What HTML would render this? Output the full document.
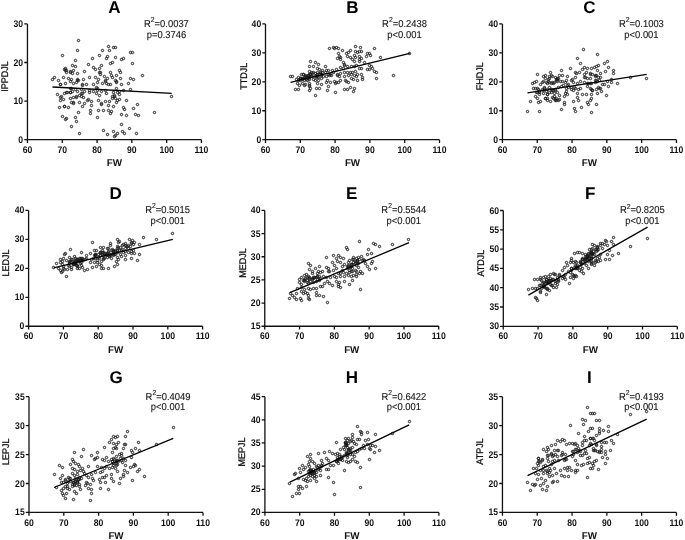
<!DOCTYPE html>
<html><head><meta charset="utf-8"><style>
html,body{margin:0;padding:0;background:#fff;}
svg{display:block;filter:grayscale(1) blur(0.35px);}
text{font-family:"Liberation Sans", sans-serif;fill:#111;text-rendering:geometricPrecision;}
.tl{font-size:9.6px;font-weight:bold;}
.tt{font-size:17px;font-weight:bold;fill:#000;}
.xl{font-size:9.8px;font-weight:bold;}
.yl{font-size:9.6px;stroke:#111;stroke-width:0.3px;}
.st{font-size:10.0px;fill:#151515;stroke:#151515;stroke-width:0.12px;}
.ax{fill:none;stroke:#111;stroke-width:1.3;}
.rl{fill:none;stroke:#000;stroke-width:1.3;}
.pt circle{fill:none;stroke:#1a1a1a;stroke-width:1.0;}
</style></head><body>
<svg width="685" height="540" viewBox="0 0 685 540">
<rect width="685" height="540" fill="#fff"/>
<text class="tl" text-anchor="end" transform="translate(23.15 142.7) scale(0.9 1)">0</text>
<text class="tl" text-anchor="end" transform="translate(23.15 104.1) scale(0.9 1)">10</text>
<text class="tl" text-anchor="end" transform="translate(23.15 65.5) scale(0.9 1)">20</text>
<text class="tl" text-anchor="end" transform="translate(23.15 26.9) scale(0.9 1)">30</text>
<text class="tl" text-anchor="middle" transform="translate(27.45 152.5) scale(0.9 1)">60</text>
<text class="tl" text-anchor="middle" transform="translate(62.25 152.5) scale(0.9 1)">70</text>
<text class="tl" text-anchor="middle" transform="translate(97.05 152.5) scale(0.9 1)">80</text>
<text class="tl" text-anchor="middle" transform="translate(131.85 152.5) scale(0.9 1)">90</text>
<text class="tl" text-anchor="middle" transform="translate(166.65 152.5) scale(0.9 1)">100</text>
<text class="tl" text-anchor="middle" transform="translate(201.45 152.5) scale(0.9 1)">110</text>
<path d="M27.45 23.9V139.7H201.45M24.25 139.7H27.45M24.25 101.1H27.45M24.25 62.5H27.45M24.25 23.9H27.45M27.45 139.7V142.9M62.25 139.7V142.9M97.05 139.7V142.9M131.85 139.7V142.9M166.65 139.7V142.9M201.45 139.7V142.9" class="ax"/>
<text x="114.45" y="13.1" class="tt" text-anchor="middle">A</text>
<text x="114.45" y="166.05" class="xl" text-anchor="middle">FW</text>
<text x="0" y="0" class="yl" text-anchor="middle" transform="translate(8.1 76.5) rotate(-90) scale(0.94 1)">IPPDJL</text>
<text class="st" text-anchor="middle" transform="translate(166.45 26.8) scale(0.94 1)">R<tspan font-size="7.2" dy="-4.9">2</tspan><tspan dy="4.9">=0.0037</tspan></text>
<text class="st" text-anchor="middle" transform="translate(166.45 37.7) scale(0.94 1)">p=0.3746</text>
<g class="pt"><circle cx="78.5" cy="40.5" r="1.2"/><circle cx="77.5" cy="50.5" r="1.2"/><circle cx="62.5" cy="55.5" r="1.2"/><circle cx="108.5" cy="46.5" r="1.2"/><circle cx="115.5" cy="47.5" r="1.2"/><circle cx="113.5" cy="47.5" r="1.2"/><circle cx="109.5" cy="50.5" r="1.2"/><circle cx="102.5" cy="50.5" r="1.2"/><circle cx="130.5" cy="52.5" r="1.2"/><circle cx="132.5" cy="52.5" r="1.2"/><circle cx="75.5" cy="60.5" r="1.2"/><circle cx="99.5" cy="55.5" r="1.2"/><circle cx="92.5" cy="58.5" r="1.2"/><circle cx="106.5" cy="58.5" r="1.2"/><circle cx="107.5" cy="56.5" r="1.2"/><circle cx="115.5" cy="57.5" r="1.2"/><circle cx="121.5" cy="59.5" r="1.2"/><circle cx="123.5" cy="58.5" r="1.2"/><circle cx="132.5" cy="63.5" r="1.2"/><circle cx="110.5" cy="63.5" r="1.2"/><circle cx="112.5" cy="62.5" r="1.2"/><circle cx="88.5" cy="64.5" r="1.2"/><circle cx="72.5" cy="65.5" r="1.2"/><circle cx="75.5" cy="66.5" r="1.2"/><circle cx="93.5" cy="67.5" r="1.2"/><circle cx="99.5" cy="68.5" r="1.2"/><circle cx="101.5" cy="65.5" r="1.2"/><circle cx="65.5" cy="68.5" r="1.2"/><circle cx="64.5" cy="69.5" r="1.2"/><circle cx="66.5" cy="70.5" r="1.2"/><circle cx="70.5" cy="71.5" r="1.2"/><circle cx="73.5" cy="70.5" r="1.2"/><circle cx="66.5" cy="72.5" r="1.2"/><circle cx="72.5" cy="73.5" r="1.2"/><circle cx="77.5" cy="73.5" r="1.2"/><circle cx="84.5" cy="71.5" r="1.2"/><circle cx="95.5" cy="69.5" r="1.2"/><circle cx="99.5" cy="72.5" r="1.2"/><circle cx="100.5" cy="74.5" r="1.2"/><circle cx="110.5" cy="72.5" r="1.2"/><circle cx="119.5" cy="70.5" r="1.2"/><circle cx="120.5" cy="72.5" r="1.2"/><circle cx="142.5" cy="75.5" r="1.2"/><circle cx="54.5" cy="77.5" r="1.2"/><circle cx="52.5" cy="79.5" r="1.2"/><circle cx="58.5" cy="80.5" r="1.2"/><circle cx="63.5" cy="77.5" r="1.2"/><circle cx="68.5" cy="78.5" r="1.2"/><circle cx="71.5" cy="79.5" r="1.2"/><circle cx="77.5" cy="79.5" r="1.2"/><circle cx="83.5" cy="79.5" r="1.2"/><circle cx="89.5" cy="77.5" r="1.2"/><circle cx="95.5" cy="77.5" r="1.2"/><circle cx="104.5" cy="76.5" r="1.2"/><circle cx="107.5" cy="78.5" r="1.2"/><circle cx="111.5" cy="75.5" r="1.2"/><circle cx="112.5" cy="77.5" r="1.2"/><circle cx="116.5" cy="75.5" r="1.2"/><circle cx="120.5" cy="78.5" r="1.2"/><circle cx="130.5" cy="78.5" r="1.2"/><circle cx="133.5" cy="79.5" r="1.2"/><circle cx="60.5" cy="84.5" r="1.2"/><circle cx="65.5" cy="83.5" r="1.2"/><circle cx="70.5" cy="81.5" r="1.2"/><circle cx="73.5" cy="83.5" r="1.2"/><circle cx="76.5" cy="82.5" r="1.2"/><circle cx="78.5" cy="80.5" r="1.2"/><circle cx="82.5" cy="85.5" r="1.2"/><circle cx="86.5" cy="84.5" r="1.2"/><circle cx="93.5" cy="84.5" r="1.2"/><circle cx="97.5" cy="82.5" r="1.2"/><circle cx="102.5" cy="83.5" r="1.2"/><circle cx="105.5" cy="81.5" r="1.2"/><circle cx="108.5" cy="84.5" r="1.2"/><circle cx="110.5" cy="84.5" r="1.2"/><circle cx="115.5" cy="80.5" r="1.2"/><circle cx="116.5" cy="82.5" r="1.2"/><circle cx="121.5" cy="84.5" r="1.2"/><circle cx="128.5" cy="83.5" r="1.2"/><circle cx="71.5" cy="88.5" r="1.2"/><circle cx="75.5" cy="89.5" r="1.2"/><circle cx="81.5" cy="89.5" r="1.2"/><circle cx="89.5" cy="90.5" r="1.2"/><circle cx="97.5" cy="88.5" r="1.2"/><circle cx="105.5" cy="90.5" r="1.2"/><circle cx="116.5" cy="88.5" r="1.2"/><circle cx="123.5" cy="90.5" r="1.2"/><circle cx="130.5" cy="89.5" r="1.2"/><circle cx="57.5" cy="94.5" r="1.2"/><circle cx="61.5" cy="96.5" r="1.2"/><circle cx="64.5" cy="93.5" r="1.2"/><circle cx="66.5" cy="92.5" r="1.2"/><circle cx="70.5" cy="92.5" r="1.2"/><circle cx="72.5" cy="91.5" r="1.2"/><circle cx="77.5" cy="91.5" r="1.2"/><circle cx="81.5" cy="93.5" r="1.2"/><circle cx="89.5" cy="92.5" r="1.2"/><circle cx="96.5" cy="93.5" r="1.2"/><circle cx="99.5" cy="95.5" r="1.2"/><circle cx="106.5" cy="93.5" r="1.2"/><circle cx="114.5" cy="95.5" r="1.2"/><circle cx="117.5" cy="92.5" r="1.2"/><circle cx="119.5" cy="94.5" r="1.2"/><circle cx="60.5" cy="97.5" r="1.2"/><circle cx="63.5" cy="99.5" r="1.2"/><circle cx="70.5" cy="98.5" r="1.2"/><circle cx="73.5" cy="97.5" r="1.2"/><circle cx="76.5" cy="96.5" r="1.2"/><circle cx="79.5" cy="95.5" r="1.2"/><circle cx="83.5" cy="97.5" r="1.2"/><circle cx="87.5" cy="100.5" r="1.2"/><circle cx="91.5" cy="101.5" r="1.2"/><circle cx="98.5" cy="100.5" r="1.2"/><circle cx="105.5" cy="101.5" r="1.2"/><circle cx="109.5" cy="101.5" r="1.2"/><circle cx="112.5" cy="96.5" r="1.2"/><circle cx="115.5" cy="98.5" r="1.2"/><circle cx="117.5" cy="100.5" r="1.2"/><circle cx="126.5" cy="100.5" r="1.2"/><circle cx="71.5" cy="102.5" r="1.2"/><circle cx="73.5" cy="103.5" r="1.2"/><circle cx="79.5" cy="102.5" r="1.2"/><circle cx="84.5" cy="103.5" r="1.2"/><circle cx="91.5" cy="105.5" r="1.2"/><circle cx="101.5" cy="104.5" r="1.2"/><circle cx="108.5" cy="105.5" r="1.2"/><circle cx="113.5" cy="106.5" r="1.2"/><circle cx="116.5" cy="102.5" r="1.2"/><circle cx="137.5" cy="104.5" r="1.2"/><circle cx="59.5" cy="107.5" r="1.2"/><circle cx="64.5" cy="106.5" r="1.2"/><circle cx="68.5" cy="107.5" r="1.2"/><circle cx="82.5" cy="106.5" r="1.2"/><circle cx="90.5" cy="110.5" r="1.2"/><circle cx="98.5" cy="110.5" r="1.2"/><circle cx="103.5" cy="110.5" r="1.2"/><circle cx="108.5" cy="110.5" r="1.2"/><circle cx="111.5" cy="111.5" r="1.2"/><circle cx="123.5" cy="107.5" r="1.2"/><circle cx="133.5" cy="108.5" r="1.2"/><circle cx="154.5" cy="112.5" r="1.2"/><circle cx="78.5" cy="112.5" r="1.2"/><circle cx="90.5" cy="113.5" r="1.2"/><circle cx="110.5" cy="113.5" r="1.2"/><circle cx="121.5" cy="114.5" r="1.2"/><circle cx="126.5" cy="115.5" r="1.2"/><circle cx="135.5" cy="114.5" r="1.2"/><circle cx="138.5" cy="115.5" r="1.2"/><circle cx="62.5" cy="116.5" r="1.2"/><circle cx="75.5" cy="117.5" r="1.2"/><circle cx="97.5" cy="117.5" r="1.2"/><circle cx="65.5" cy="119.5" r="1.2"/><circle cx="66.5" cy="118.5" r="1.2"/><circle cx="76.5" cy="121.5" r="1.2"/><circle cx="121.5" cy="124.5" r="1.2"/><circle cx="71.5" cy="126.5" r="1.2"/><circle cx="79.5" cy="133.5" r="1.2"/><circle cx="103.5" cy="130.5" r="1.2"/><circle cx="107.5" cy="134.5" r="1.2"/><circle cx="113.5" cy="131.5" r="1.2"/><circle cx="117.5" cy="133.5" r="1.2"/><circle cx="122.5" cy="131.5" r="1.2"/><circle cx="124.5" cy="133.5" r="1.2"/><circle cx="129.5" cy="128.5" r="1.2"/><circle cx="136.5" cy="133.5" r="1.2"/><circle cx="114.5" cy="136.5" r="1.2"/><circle cx="115.5" cy="135.5" r="1.2"/><circle cx="171.5" cy="96.5" r="1.2"/><circle cx="70.5" cy="92.5" r="1.2"/><circle cx="76.5" cy="97.5" r="1.2"/><circle cx="82.5" cy="84.5" r="1.2"/><circle cx="88.5" cy="99.5" r="1.2"/><circle cx="73.5" cy="102.5" r="1.2"/><circle cx="64.5" cy="106.5" r="1.2"/><circle cx="114.5" cy="96.5" r="1.2"/><circle cx="124.5" cy="109.5" r="1.2"/><circle cx="116.5" cy="81.5" r="1.2"/><circle cx="105.5" cy="80.5" r="1.2"/><circle cx="100.5" cy="72.5" r="1.2"/><circle cx="77.5" cy="80.5" r="1.2"/><circle cx="65.5" cy="70.5" r="1.2"/><circle cx="70.5" cy="72.5" r="1.2"/><circle cx="70.5" cy="88.5" r="1.2"/><circle cx="67.5" cy="92.5" r="1.2"/><circle cx="84.5" cy="91.5" r="1.2"/><circle cx="93.5" cy="91.5" r="1.2"/><circle cx="112.5" cy="98.5" r="1.2"/><circle cx="81.5" cy="96.5" r="1.2"/><circle cx="60.5" cy="100.5" r="1.2"/><circle cx="119.5" cy="99.5" r="1.2"/><circle cx="97.5" cy="90.5" r="1.2"/><circle cx="113.5" cy="92.5" r="1.2"/><circle cx="101.5" cy="91.5" r="1.2"/><circle cx="101.5" cy="103.5" r="1.2"/><circle cx="106.5" cy="83.5" r="1.2"/><circle cx="98.5" cy="79.5" r="1.2"/><circle cx="119.5" cy="91.5" r="1.2"/><circle cx="60.5" cy="84.5" r="1.2"/><circle cx="82.5" cy="93.5" r="1.2"/><circle cx="96.5" cy="87.5" r="1.2"/></g>
<path d="M52.51 87L171.7 93.3" class="rl"/>
<text class="tl" text-anchor="end" transform="translate(261.2 142.7) scale(0.9 1)">0</text>
<text class="tl" text-anchor="end" transform="translate(261.2 113.75) scale(0.9 1)">10</text>
<text class="tl" text-anchor="end" transform="translate(261.2 84.8) scale(0.9 1)">20</text>
<text class="tl" text-anchor="end" transform="translate(261.2 55.85) scale(0.9 1)">30</text>
<text class="tl" text-anchor="end" transform="translate(261.2 26.9) scale(0.9 1)">40</text>
<text class="tl" text-anchor="middle" transform="translate(265.5 152.5) scale(0.9 1)">60</text>
<text class="tl" text-anchor="middle" transform="translate(300.3 152.5) scale(0.9 1)">70</text>
<text class="tl" text-anchor="middle" transform="translate(335.1 152.5) scale(0.9 1)">80</text>
<text class="tl" text-anchor="middle" transform="translate(369.9 152.5) scale(0.9 1)">90</text>
<text class="tl" text-anchor="middle" transform="translate(404.7 152.5) scale(0.9 1)">100</text>
<text class="tl" text-anchor="middle" transform="translate(439.5 152.5) scale(0.9 1)">110</text>
<path d="M265.5 23.9V139.7H439.5M262.3 139.7H265.5M262.3 110.75H265.5M262.3 81.8H265.5M262.3 52.85H265.5M262.3 23.9H265.5M265.5 139.7V142.9M300.3 139.7V142.9M335.1 139.7V142.9M369.9 139.7V142.9M404.7 139.7V142.9M439.5 139.7V142.9" class="ax"/>
<text x="352.5" y="13.1" class="tt" text-anchor="middle">B</text>
<text x="352.5" y="166.05" class="xl" text-anchor="middle">FW</text>
<text x="0" y="0" class="yl" text-anchor="middle" transform="translate(246.9 76.25) rotate(-90) scale(0.94 1)">TTDJL</text>
<text class="st" text-anchor="middle" transform="translate(404.5 26.8) scale(0.94 1)">R<tspan font-size="7.2" dy="-4.9">2</tspan><tspan dy="4.9">=0.2438</tspan></text>
<text class="st" text-anchor="middle" transform="translate(404.5 37.7) scale(0.94 1)">p<0.001</text>
<g class="pt"><circle cx="329.5" cy="48.5" r="1.2"/><circle cx="333.5" cy="47.5" r="1.2"/><circle cx="334.5" cy="48.5" r="1.2"/><circle cx="336.5" cy="47.5" r="1.2"/><circle cx="338.5" cy="48.5" r="1.2"/><circle cx="342.5" cy="50.5" r="1.2"/><circle cx="355.5" cy="46.5" r="1.2"/><circle cx="360.5" cy="47.5" r="1.2"/><circle cx="350.5" cy="50.5" r="1.2"/><circle cx="348.5" cy="52.5" r="1.2"/><circle cx="346.5" cy="53.5" r="1.2"/><circle cx="355.5" cy="51.5" r="1.2"/><circle cx="357.5" cy="52.5" r="1.2"/><circle cx="359.5" cy="51.5" r="1.2"/><circle cx="361.5" cy="51.5" r="1.2"/><circle cx="367.5" cy="53.5" r="1.2"/><circle cx="369.5" cy="53.5" r="1.2"/><circle cx="366.5" cy="56.5" r="1.2"/><circle cx="370.5" cy="55.5" r="1.2"/><circle cx="338.5" cy="53.5" r="1.2"/><circle cx="339.5" cy="56.5" r="1.2"/><circle cx="340.5" cy="57.5" r="1.2"/><circle cx="337.5" cy="58.5" r="1.2"/><circle cx="340.5" cy="59.5" r="1.2"/><circle cx="347.5" cy="56.5" r="1.2"/><circle cx="350.5" cy="57.5" r="1.2"/><circle cx="354.5" cy="55.5" r="1.2"/><circle cx="355.5" cy="57.5" r="1.2"/><circle cx="359.5" cy="56.5" r="1.2"/><circle cx="352.5" cy="59.5" r="1.2"/><circle cx="354.5" cy="61.5" r="1.2"/><circle cx="359.5" cy="59.5" r="1.2"/><circle cx="359.5" cy="61.5" r="1.2"/><circle cx="361.5" cy="58.5" r="1.2"/><circle cx="343.5" cy="62.5" r="1.2"/><circle cx="344.5" cy="64.5" r="1.2"/><circle cx="344.5" cy="65.5" r="1.2"/><circle cx="364.5" cy="62.5" r="1.2"/><circle cx="369.5" cy="65.5" r="1.2"/><circle cx="371.5" cy="66.5" r="1.2"/><circle cx="372.5" cy="68.5" r="1.2"/><circle cx="310.5" cy="61.5" r="1.2"/><circle cx="315.5" cy="62.5" r="1.2"/><circle cx="318.5" cy="64.5" r="1.2"/><circle cx="325.5" cy="66.5" r="1.2"/><circle cx="309.5" cy="66.5" r="1.2"/><circle cx="313.5" cy="66.5" r="1.2"/><circle cx="317.5" cy="68.5" r="1.2"/><circle cx="319.5" cy="69.5" r="1.2"/><circle cx="322.5" cy="70.5" r="1.2"/><circle cx="326.5" cy="70.5" r="1.2"/><circle cx="328.5" cy="70.5" r="1.2"/><circle cx="332.5" cy="70.5" r="1.2"/><circle cx="336.5" cy="69.5" r="1.2"/><circle cx="340.5" cy="67.5" r="1.2"/><circle cx="343.5" cy="68.5" r="1.2"/><circle cx="347.5" cy="66.5" r="1.2"/><circle cx="351.5" cy="66.5" r="1.2"/><circle cx="354.5" cy="66.5" r="1.2"/><circle cx="356.5" cy="65.5" r="1.2"/><circle cx="359.5" cy="68.5" r="1.2"/><circle cx="361.5" cy="68.5" r="1.2"/><circle cx="367.5" cy="69.5" r="1.2"/><circle cx="369.5" cy="69.5" r="1.2"/><circle cx="309.5" cy="71.5" r="1.2"/><circle cx="311.5" cy="72.5" r="1.2"/><circle cx="313.5" cy="72.5" r="1.2"/><circle cx="315.5" cy="73.5" r="1.2"/><circle cx="317.5" cy="74.5" r="1.2"/><circle cx="319.5" cy="74.5" r="1.2"/><circle cx="322.5" cy="72.5" r="1.2"/><circle cx="325.5" cy="72.5" r="1.2"/><circle cx="328.5" cy="74.5" r="1.2"/><circle cx="330.5" cy="74.5" r="1.2"/><circle cx="333.5" cy="72.5" r="1.2"/><circle cx="337.5" cy="74.5" r="1.2"/><circle cx="340.5" cy="73.5" r="1.2"/><circle cx="344.5" cy="72.5" r="1.2"/><circle cx="347.5" cy="72.5" r="1.2"/><circle cx="350.5" cy="72.5" r="1.2"/><circle cx="352.5" cy="72.5" r="1.2"/><circle cx="355.5" cy="71.5" r="1.2"/><circle cx="357.5" cy="74.5" r="1.2"/><circle cx="361.5" cy="74.5" r="1.2"/><circle cx="290.5" cy="76.5" r="1.2"/><circle cx="292.5" cy="76.5" r="1.2"/><circle cx="301.5" cy="74.5" r="1.2"/><circle cx="303.5" cy="74.5" r="1.2"/><circle cx="298.5" cy="77.5" r="1.2"/><circle cx="300.5" cy="78.5" r="1.2"/><circle cx="302.5" cy="78.5" r="1.2"/><circle cx="304.5" cy="77.5" r="1.2"/><circle cx="306.5" cy="76.5" r="1.2"/><circle cx="308.5" cy="75.5" r="1.2"/><circle cx="310.5" cy="74.5" r="1.2"/><circle cx="312.5" cy="76.5" r="1.2"/><circle cx="315.5" cy="76.5" r="1.2"/><circle cx="318.5" cy="77.5" r="1.2"/><circle cx="321.5" cy="78.5" r="1.2"/><circle cx="323.5" cy="76.5" r="1.2"/><circle cx="326.5" cy="76.5" r="1.2"/><circle cx="329.5" cy="75.5" r="1.2"/><circle cx="331.5" cy="75.5" r="1.2"/><circle cx="337.5" cy="75.5" r="1.2"/><circle cx="339.5" cy="76.5" r="1.2"/><circle cx="344.5" cy="76.5" r="1.2"/><circle cx="348.5" cy="75.5" r="1.2"/><circle cx="351.5" cy="74.5" r="1.2"/><circle cx="354.5" cy="75.5" r="1.2"/><circle cx="356.5" cy="76.5" r="1.2"/><circle cx="362.5" cy="77.5" r="1.2"/><circle cx="296.5" cy="79.5" r="1.2"/><circle cx="298.5" cy="80.5" r="1.2"/><circle cx="300.5" cy="80.5" r="1.2"/><circle cx="304.5" cy="80.5" r="1.2"/><circle cx="307.5" cy="80.5" r="1.2"/><circle cx="309.5" cy="79.5" r="1.2"/><circle cx="313.5" cy="79.5" r="1.2"/><circle cx="315.5" cy="80.5" r="1.2"/><circle cx="318.5" cy="80.5" r="1.2"/><circle cx="327.5" cy="80.5" r="1.2"/><circle cx="330.5" cy="82.5" r="1.2"/><circle cx="334.5" cy="81.5" r="1.2"/><circle cx="338.5" cy="82.5" r="1.2"/><circle cx="340.5" cy="80.5" r="1.2"/><circle cx="345.5" cy="80.5" r="1.2"/><circle cx="348.5" cy="82.5" r="1.2"/><circle cx="351.5" cy="78.5" r="1.2"/><circle cx="353.5" cy="79.5" r="1.2"/><circle cx="357.5" cy="80.5" r="1.2"/><circle cx="362.5" cy="79.5" r="1.2"/><circle cx="297.5" cy="83.5" r="1.2"/><circle cx="299.5" cy="85.5" r="1.2"/><circle cx="302.5" cy="83.5" r="1.2"/><circle cx="304.5" cy="85.5" r="1.2"/><circle cx="305.5" cy="84.5" r="1.2"/><circle cx="309.5" cy="83.5" r="1.2"/><circle cx="309.5" cy="85.5" r="1.2"/><circle cx="309.5" cy="86.5" r="1.2"/><circle cx="310.5" cy="88.5" r="1.2"/><circle cx="309.5" cy="90.5" r="1.2"/><circle cx="317.5" cy="83.5" r="1.2"/><circle cx="321.5" cy="84.5" r="1.2"/><circle cx="326.5" cy="82.5" r="1.2"/><circle cx="328.5" cy="86.5" r="1.2"/><circle cx="335.5" cy="83.5" r="1.2"/><circle cx="336.5" cy="82.5" r="1.2"/><circle cx="346.5" cy="81.5" r="1.2"/><circle cx="295.5" cy="89.5" r="1.2"/><circle cx="298.5" cy="89.5" r="1.2"/><circle cx="316.5" cy="88.5" r="1.2"/><circle cx="319.5" cy="88.5" r="1.2"/><circle cx="327.5" cy="90.5" r="1.2"/><circle cx="344.5" cy="89.5" r="1.2"/><circle cx="347.5" cy="89.5" r="1.2"/><circle cx="350.5" cy="87.5" r="1.2"/><circle cx="354.5" cy="88.5" r="1.2"/><circle cx="353.5" cy="91.5" r="1.2"/><circle cx="335.5" cy="92.5" r="1.2"/><circle cx="315.5" cy="95.5" r="1.2"/><circle cx="374.5" cy="48.5" r="1.2"/><circle cx="380.5" cy="57.5" r="1.2"/><circle cx="409.5" cy="53.5" r="1.2"/><circle cx="374.5" cy="71.5" r="1.2"/><circle cx="376.5" cy="72.5" r="1.2"/><circle cx="376.5" cy="78.5" r="1.2"/><circle cx="393.5" cy="75.5" r="1.2"/><circle cx="309.5" cy="77.5" r="1.2"/><circle cx="320.5" cy="72.5" r="1.2"/><circle cx="302.5" cy="79.5" r="1.2"/><circle cx="320.5" cy="73.5" r="1.2"/><circle cx="306.5" cy="79.5" r="1.2"/><circle cx="310.5" cy="74.5" r="1.2"/><circle cx="317.5" cy="76.5" r="1.2"/><circle cx="308.5" cy="76.5" r="1.2"/><circle cx="312.5" cy="73.5" r="1.2"/><circle cx="300.5" cy="78.5" r="1.2"/><circle cx="316.5" cy="75.5" r="1.2"/><circle cx="311.5" cy="76.5" r="1.2"/><circle cx="305.5" cy="75.5" r="1.2"/><circle cx="317.5" cy="72.5" r="1.2"/><circle cx="306.5" cy="77.5" r="1.2"/><circle cx="308.5" cy="75.5" r="1.2"/><circle cx="301.5" cy="78.5" r="1.2"/><circle cx="308.5" cy="78.5" r="1.2"/><circle cx="303.5" cy="74.5" r="1.2"/><circle cx="304.5" cy="78.5" r="1.2"/><circle cx="316.5" cy="77.5" r="1.2"/><circle cx="305.5" cy="76.5" r="1.2"/><circle cx="309.5" cy="74.5" r="1.2"/><circle cx="321.5" cy="75.5" r="1.2"/><circle cx="321.5" cy="74.5" r="1.2"/></g>
<path d="M290.56 82.3L409.75 53.4" class="rl"/>
<text class="tl" text-anchor="end" transform="translate(498.15 142.7) scale(0.9 1)">0</text>
<text class="tl" text-anchor="end" transform="translate(498.15 113.75) scale(0.9 1)">10</text>
<text class="tl" text-anchor="end" transform="translate(498.15 84.8) scale(0.9 1)">20</text>
<text class="tl" text-anchor="end" transform="translate(498.15 55.85) scale(0.9 1)">30</text>
<text class="tl" text-anchor="end" transform="translate(498.15 26.9) scale(0.9 1)">40</text>
<text class="tl" text-anchor="middle" transform="translate(502.45 152.5) scale(0.9 1)">60</text>
<text class="tl" text-anchor="middle" transform="translate(537.25 152.5) scale(0.9 1)">70</text>
<text class="tl" text-anchor="middle" transform="translate(572.05 152.5) scale(0.9 1)">80</text>
<text class="tl" text-anchor="middle" transform="translate(606.85 152.5) scale(0.9 1)">90</text>
<text class="tl" text-anchor="middle" transform="translate(641.65 152.5) scale(0.9 1)">100</text>
<text class="tl" text-anchor="middle" transform="translate(676.45 152.5) scale(0.9 1)">110</text>
<path d="M502.45 23.9V139.7H676.45M499.25 139.7H502.45M499.25 110.75H502.45M499.25 81.8H502.45M499.25 52.85H502.45M499.25 23.9H502.45M502.45 139.7V142.9M537.25 139.7V142.9M572.05 139.7V142.9M606.85 139.7V142.9M641.65 139.7V142.9M676.45 139.7V142.9" class="ax"/>
<text x="589.45" y="13.1" class="tt" text-anchor="middle">C</text>
<text x="589.45" y="166.05" class="xl" text-anchor="middle">FW</text>
<text x="0" y="0" class="yl" text-anchor="middle" transform="translate(483 76.25) rotate(-90) scale(0.94 1)">FHDJL</text>
<text class="st" text-anchor="middle" transform="translate(641.45 26.8) scale(0.94 1)">R<tspan font-size="7.2" dy="-4.9">2</tspan><tspan dy="4.9">=0.1003</tspan></text>
<text class="st" text-anchor="middle" transform="translate(641.45 37.7) scale(0.94 1)">p<0.001</text>
<g class="pt"><circle cx="583.5" cy="49.5" r="1.2"/><circle cx="597.5" cy="54.5" r="1.2"/><circle cx="577.5" cy="58.5" r="1.2"/><circle cx="580.5" cy="63.5" r="1.2"/><circle cx="570.5" cy="68.5" r="1.2"/><circle cx="561.5" cy="70.5" r="1.2"/><circle cx="537.5" cy="74.5" r="1.2"/><circle cx="550.5" cy="72.5" r="1.2"/><circle cx="545.5" cy="75.5" r="1.2"/><circle cx="543.5" cy="76.5" r="1.2"/><circle cx="552.5" cy="76.5" r="1.2"/><circle cx="555.5" cy="77.5" r="1.2"/><circle cx="557.5" cy="78.5" r="1.2"/><circle cx="567.5" cy="76.5" r="1.2"/><circle cx="575.5" cy="72.5" r="1.2"/><circle cx="576.5" cy="73.5" r="1.2"/><circle cx="575.5" cy="77.5" r="1.2"/><circle cx="579.5" cy="72.5" r="1.2"/><circle cx="582.5" cy="69.5" r="1.2"/><circle cx="584.5" cy="67.5" r="1.2"/><circle cx="587.5" cy="68.5" r="1.2"/><circle cx="591.5" cy="68.5" r="1.2"/><circle cx="594.5" cy="67.5" r="1.2"/><circle cx="596.5" cy="66.5" r="1.2"/><circle cx="598.5" cy="65.5" r="1.2"/><circle cx="584.5" cy="74.5" r="1.2"/><circle cx="586.5" cy="72.5" r="1.2"/><circle cx="590.5" cy="74.5" r="1.2"/><circle cx="592.5" cy="74.5" r="1.2"/><circle cx="595.5" cy="76.5" r="1.2"/><circle cx="598.5" cy="77.5" r="1.2"/><circle cx="584.5" cy="77.5" r="1.2"/><circle cx="587.5" cy="78.5" r="1.2"/><circle cx="590.5" cy="78.5" r="1.2"/><circle cx="532.5" cy="83.5" r="1.2"/><circle cx="534.5" cy="82.5" r="1.2"/><circle cx="536.5" cy="81.5" r="1.2"/><circle cx="540.5" cy="84.5" r="1.2"/><circle cx="543.5" cy="81.5" r="1.2"/><circle cx="546.5" cy="82.5" r="1.2"/><circle cx="547.5" cy="83.5" r="1.2"/><circle cx="549.5" cy="82.5" r="1.2"/><circle cx="551.5" cy="83.5" r="1.2"/><circle cx="554.5" cy="82.5" r="1.2"/><circle cx="557.5" cy="81.5" r="1.2"/><circle cx="560.5" cy="81.5" r="1.2"/><circle cx="562.5" cy="81.5" r="1.2"/><circle cx="565.5" cy="82.5" r="1.2"/><circle cx="566.5" cy="80.5" r="1.2"/><circle cx="571.5" cy="80.5" r="1.2"/><circle cx="573.5" cy="82.5" r="1.2"/><circle cx="577.5" cy="83.5" r="1.2"/><circle cx="580.5" cy="81.5" r="1.2"/><circle cx="584.5" cy="82.5" r="1.2"/><circle cx="588.5" cy="83.5" r="1.2"/><circle cx="591.5" cy="83.5" r="1.2"/><circle cx="595.5" cy="82.5" r="1.2"/><circle cx="597.5" cy="81.5" r="1.2"/><circle cx="533.5" cy="88.5" r="1.2"/><circle cx="538.5" cy="89.5" r="1.2"/><circle cx="539.5" cy="91.5" r="1.2"/><circle cx="542.5" cy="89.5" r="1.2"/><circle cx="544.5" cy="87.5" r="1.2"/><circle cx="547.5" cy="89.5" r="1.2"/><circle cx="549.5" cy="87.5" r="1.2"/><circle cx="551.5" cy="89.5" r="1.2"/><circle cx="553.5" cy="90.5" r="1.2"/><circle cx="555.5" cy="90.5" r="1.2"/><circle cx="558.5" cy="87.5" r="1.2"/><circle cx="561.5" cy="86.5" r="1.2"/><circle cx="566.5" cy="88.5" r="1.2"/><circle cx="568.5" cy="87.5" r="1.2"/><circle cx="571.5" cy="89.5" r="1.2"/><circle cx="573.5" cy="90.5" r="1.2"/><circle cx="578.5" cy="89.5" r="1.2"/><circle cx="580.5" cy="88.5" r="1.2"/><circle cx="587.5" cy="86.5" r="1.2"/><circle cx="590.5" cy="88.5" r="1.2"/><circle cx="592.5" cy="90.5" r="1.2"/><circle cx="596.5" cy="89.5" r="1.2"/><circle cx="598.5" cy="87.5" r="1.2"/><circle cx="539.5" cy="92.5" r="1.2"/><circle cx="543.5" cy="93.5" r="1.2"/><circle cx="547.5" cy="94.5" r="1.2"/><circle cx="551.5" cy="92.5" r="1.2"/><circle cx="554.5" cy="93.5" r="1.2"/><circle cx="557.5" cy="92.5" r="1.2"/><circle cx="565.5" cy="93.5" r="1.2"/><circle cx="567.5" cy="94.5" r="1.2"/><circle cx="577.5" cy="93.5" r="1.2"/><circle cx="582.5" cy="94.5" r="1.2"/><circle cx="586.5" cy="94.5" r="1.2"/><circle cx="591.5" cy="94.5" r="1.2"/><circle cx="597.5" cy="93.5" r="1.2"/><circle cx="535.5" cy="96.5" r="1.2"/><circle cx="537.5" cy="98.5" r="1.2"/><circle cx="540.5" cy="101.5" r="1.2"/><circle cx="538.5" cy="102.5" r="1.2"/><circle cx="545.5" cy="98.5" r="1.2"/><circle cx="547.5" cy="100.5" r="1.2"/><circle cx="550.5" cy="101.5" r="1.2"/><circle cx="555.5" cy="100.5" r="1.2"/><circle cx="558.5" cy="100.5" r="1.2"/><circle cx="564.5" cy="96.5" r="1.2"/><circle cx="564.5" cy="102.5" r="1.2"/><circle cx="564.5" cy="104.5" r="1.2"/><circle cx="573.5" cy="101.5" r="1.2"/><circle cx="577.5" cy="97.5" r="1.2"/><circle cx="578.5" cy="100.5" r="1.2"/><circle cx="587.5" cy="102.5" r="1.2"/><circle cx="588.5" cy="104.5" r="1.2"/><circle cx="591.5" cy="98.5" r="1.2"/><circle cx="590.5" cy="100.5" r="1.2"/><circle cx="596.5" cy="104.5" r="1.2"/><circle cx="530.5" cy="101.5" r="1.2"/><circle cx="527.5" cy="111.5" r="1.2"/><circle cx="539.5" cy="111.5" r="1.2"/><circle cx="561.5" cy="109.5" r="1.2"/><circle cx="574.5" cy="108.5" r="1.2"/><circle cx="575.5" cy="111.5" r="1.2"/><circle cx="581.5" cy="107.5" r="1.2"/><circle cx="591.5" cy="112.5" r="1.2"/><circle cx="607.5" cy="61.5" r="1.2"/><circle cx="604.5" cy="63.5" r="1.2"/><circle cx="608.5" cy="67.5" r="1.2"/><circle cx="605.5" cy="71.5" r="1.2"/><circle cx="600.5" cy="73.5" r="1.2"/><circle cx="613.5" cy="70.5" r="1.2"/><circle cx="613.5" cy="73.5" r="1.2"/><circle cx="611.5" cy="79.5" r="1.2"/><circle cx="611.5" cy="82.5" r="1.2"/><circle cx="607.5" cy="81.5" r="1.2"/><circle cx="604.5" cy="84.5" r="1.2"/><circle cx="602.5" cy="84.5" r="1.2"/><circle cx="608.5" cy="86.5" r="1.2"/><circle cx="617.5" cy="83.5" r="1.2"/><circle cx="630.5" cy="77.5" r="1.2"/><circle cx="646.5" cy="78.5" r="1.2"/><circle cx="606.5" cy="95.5" r="1.2"/><circle cx="601.5" cy="91.5" r="1.2"/><circle cx="544.5" cy="88.5" r="1.2"/><circle cx="566.5" cy="91.5" r="1.2"/><circle cx="556.5" cy="79.5" r="1.2"/><circle cx="559.5" cy="75.5" r="1.2"/><circle cx="568.5" cy="84.5" r="1.2"/><circle cx="546.5" cy="91.5" r="1.2"/><circle cx="556.5" cy="98.5" r="1.2"/><circle cx="545.5" cy="78.5" r="1.2"/><circle cx="548.5" cy="79.5" r="1.2"/><circle cx="563.5" cy="85.5" r="1.2"/><circle cx="575.5" cy="88.5" r="1.2"/><circle cx="547.5" cy="94.5" r="1.2"/><circle cx="574.5" cy="87.5" r="1.2"/><circle cx="552.5" cy="90.5" r="1.2"/><circle cx="555.5" cy="89.5" r="1.2"/><circle cx="539.5" cy="94.5" r="1.2"/><circle cx="559.5" cy="99.5" r="1.2"/><circle cx="572.5" cy="79.5" r="1.2"/><circle cx="559.5" cy="95.5" r="1.2"/><circle cx="552.5" cy="97.5" r="1.2"/><circle cx="557.5" cy="79.5" r="1.2"/><circle cx="556.5" cy="100.5" r="1.2"/><circle cx="549.5" cy="92.5" r="1.2"/><circle cx="562.5" cy="75.5" r="1.2"/><circle cx="554.5" cy="96.5" r="1.2"/><circle cx="543.5" cy="90.5" r="1.2"/><circle cx="549.5" cy="78.5" r="1.2"/><circle cx="552.5" cy="82.5" r="1.2"/><circle cx="548.5" cy="81.5" r="1.2"/><circle cx="553.5" cy="98.5" r="1.2"/><circle cx="537.5" cy="92.5" r="1.2"/><circle cx="545.5" cy="98.5" r="1.2"/><circle cx="549.5" cy="76.5" r="1.2"/><circle cx="551.5" cy="75.5" r="1.2"/><circle cx="553.5" cy="83.5" r="1.2"/><circle cx="537.5" cy="88.5" r="1.2"/><circle cx="556.5" cy="80.5" r="1.2"/><circle cx="535.5" cy="88.5" r="1.2"/><circle cx="542.5" cy="82.5" r="1.2"/><circle cx="571.5" cy="87.5" r="1.2"/><circle cx="555.5" cy="99.5" r="1.2"/><circle cx="536.5" cy="92.5" r="1.2"/><circle cx="547.5" cy="98.5" r="1.2"/><circle cx="558.5" cy="78.5" r="1.2"/><circle cx="567.5" cy="85.5" r="1.2"/><circle cx="600.5" cy="88.5" r="1.2"/><circle cx="596.5" cy="80.5" r="1.2"/><circle cx="592.5" cy="90.5" r="1.2"/><circle cx="597.5" cy="70.5" r="1.2"/><circle cx="596.5" cy="75.5" r="1.2"/><circle cx="590.5" cy="73.5" r="1.2"/><circle cx="590.5" cy="83.5" r="1.2"/><circle cx="600.5" cy="77.5" r="1.2"/><circle cx="599.5" cy="80.5" r="1.2"/><circle cx="595.5" cy="80.5" r="1.2"/><circle cx="585.5" cy="77.5" r="1.2"/><circle cx="591.5" cy="89.5" r="1.2"/><circle cx="599.5" cy="88.5" r="1.2"/><circle cx="595.5" cy="75.5" r="1.2"/><circle cx="587.5" cy="83.5" r="1.2"/></g>
<path d="M527.51 92.8L646.7 74.4" class="rl"/>
<text class="tl" text-anchor="end" transform="translate(24.3 329.25) scale(0.9 1)">0</text>
<text class="tl" text-anchor="end" transform="translate(24.3 300.3) scale(0.9 1)">10</text>
<text class="tl" text-anchor="end" transform="translate(24.3 271.35) scale(0.9 1)">20</text>
<text class="tl" text-anchor="end" transform="translate(24.3 242.4) scale(0.9 1)">30</text>
<text class="tl" text-anchor="end" transform="translate(24.3 213.45) scale(0.9 1)">40</text>
<text class="tl" text-anchor="middle" transform="translate(28.6 339.35) scale(0.9 1)">60</text>
<text class="tl" text-anchor="middle" transform="translate(63.4 339.35) scale(0.9 1)">70</text>
<text class="tl" text-anchor="middle" transform="translate(98.2 339.35) scale(0.9 1)">80</text>
<text class="tl" text-anchor="middle" transform="translate(133 339.35) scale(0.9 1)">90</text>
<text class="tl" text-anchor="middle" transform="translate(167.8 339.35) scale(0.9 1)">100</text>
<text class="tl" text-anchor="middle" transform="translate(202.6 339.35) scale(0.9 1)">110</text>
<path d="M28.6 210.45V326.25H202.6M25.4 326.25H28.6M25.4 297.3H28.6M25.4 268.35H28.6M25.4 239.4H28.6M25.4 210.45H28.6M28.6 326.25V329.45M63.4 326.25V329.45M98.2 326.25V329.45M133 326.25V329.45M167.8 326.25V329.45M202.6 326.25V329.45" class="ax"/>
<text x="115.6" y="198.6" class="tt" text-anchor="middle">D</text>
<text x="115.6" y="352.6" class="xl" text-anchor="middle">FW</text>
<text x="0" y="0" class="yl" text-anchor="middle" transform="translate(8.95 263) rotate(-90) scale(0.94 1)">LEDJL</text>
<text class="st" text-anchor="middle" transform="translate(167.6 213.35) scale(0.94 1)">R<tspan font-size="7.2" dy="-4.9">2</tspan><tspan dy="4.9">=0.5015</tspan></text>
<text class="st" text-anchor="middle" transform="translate(167.6 224.25) scale(0.94 1)">p<0.001</text>
<g class="pt"><circle cx="92.5" cy="242.5" r="1.2"/><circle cx="70.5" cy="249.5" r="1.2"/><circle cx="81.5" cy="252.5" r="1.2"/><circle cx="65.5" cy="253.5" r="1.2"/><circle cx="64.5" cy="254.5" r="1.2"/><circle cx="69.5" cy="257.5" r="1.2"/><circle cx="60.5" cy="259.5" r="1.2"/><circle cx="56.5" cy="263.5" r="1.2"/><circle cx="53.5" cy="267.5" r="1.2"/><circle cx="60.5" cy="262.5" r="1.2"/><circle cx="62.5" cy="261.5" r="1.2"/><circle cx="66.5" cy="260.5" r="1.2"/><circle cx="63.5" cy="258.5" r="1.2"/><circle cx="86.5" cy="255.5" r="1.2"/><circle cx="90.5" cy="253.5" r="1.2"/><circle cx="94.5" cy="250.5" r="1.2"/><circle cx="96.5" cy="250.5" r="1.2"/><circle cx="100.5" cy="247.5" r="1.2"/><circle cx="103.5" cy="247.5" r="1.2"/><circle cx="107.5" cy="248.5" r="1.2"/><circle cx="110.5" cy="245.5" r="1.2"/><circle cx="111.5" cy="250.5" r="1.2"/><circle cx="117.5" cy="239.5" r="1.2"/><circle cx="119.5" cy="241.5" r="1.2"/><circle cx="118.5" cy="247.5" r="1.2"/><circle cx="113.5" cy="250.5" r="1.2"/><circle cx="71.5" cy="259.5" r="1.2"/><circle cx="72.5" cy="259.5" r="1.2"/><circle cx="74.5" cy="256.5" r="1.2"/><circle cx="75.5" cy="258.5" r="1.2"/><circle cx="77.5" cy="259.5" r="1.2"/><circle cx="79.5" cy="260.5" r="1.2"/><circle cx="80.5" cy="258.5" r="1.2"/><circle cx="82.5" cy="259.5" r="1.2"/><circle cx="83.5" cy="260.5" r="1.2"/><circle cx="85.5" cy="259.5" r="1.2"/><circle cx="86.5" cy="258.5" r="1.2"/><circle cx="90.5" cy="262.5" r="1.2"/><circle cx="91.5" cy="259.5" r="1.2"/><circle cx="93.5" cy="258.5" r="1.2"/><circle cx="97.5" cy="260.5" r="1.2"/><circle cx="99.5" cy="258.5" r="1.2"/><circle cx="101.5" cy="261.5" r="1.2"/><circle cx="103.5" cy="259.5" r="1.2"/><circle cx="104.5" cy="258.5" r="1.2"/><circle cx="107.5" cy="257.5" r="1.2"/><circle cx="109.5" cy="256.5" r="1.2"/><circle cx="111.5" cy="258.5" r="1.2"/><circle cx="113.5" cy="255.5" r="1.2"/><circle cx="115.5" cy="254.5" r="1.2"/><circle cx="117.5" cy="257.5" r="1.2"/><circle cx="118.5" cy="259.5" r="1.2"/><circle cx="116.5" cy="261.5" r="1.2"/><circle cx="117.5" cy="264.5" r="1.2"/><circle cx="114.5" cy="266.5" r="1.2"/><circle cx="108.5" cy="268.5" r="1.2"/><circle cx="103.5" cy="268.5" r="1.2"/><circle cx="101.5" cy="268.5" r="1.2"/><circle cx="96.5" cy="266.5" r="1.2"/><circle cx="92.5" cy="267.5" r="1.2"/><circle cx="87.5" cy="269.5" r="1.2"/><circle cx="84.5" cy="270.5" r="1.2"/><circle cx="79.5" cy="268.5" r="1.2"/><circle cx="77.5" cy="268.5" r="1.2"/><circle cx="71.5" cy="269.5" r="1.2"/><circle cx="67.5" cy="269.5" r="1.2"/><circle cx="64.5" cy="269.5" r="1.2"/><circle cx="62.5" cy="271.5" r="1.2"/><circle cx="61.5" cy="272.5" r="1.2"/><circle cx="66.5" cy="276.5" r="1.2"/><circle cx="74.5" cy="264.5" r="1.2"/><circle cx="76.5" cy="265.5" r="1.2"/><circle cx="81.5" cy="265.5" r="1.2"/><circle cx="82.5" cy="267.5" r="1.2"/><circle cx="69.5" cy="263.5" r="1.2"/><circle cx="71.5" cy="262.5" r="1.2"/><circle cx="73.5" cy="263.5" r="1.2"/><circle cx="100.5" cy="253.5" r="1.2"/><circle cx="102.5" cy="254.5" r="1.2"/><circle cx="105.5" cy="253.5" r="1.2"/><circle cx="108.5" cy="252.5" r="1.2"/><circle cx="113.5" cy="252.5" r="1.2"/><circle cx="115.5" cy="251.5" r="1.2"/><circle cx="98.5" cy="254.5" r="1.2"/><circle cx="95.5" cy="255.5" r="1.2"/><circle cx="99.5" cy="264.5" r="1.2"/><circle cx="101.5" cy="265.5" r="1.2"/><circle cx="97.5" cy="262.5" r="1.2"/><circle cx="58.5" cy="268.5" r="1.2"/><circle cx="63.5" cy="268.5" r="1.2"/><circle cx="60.5" cy="270.5" r="1.2"/><circle cx="143.5" cy="237.5" r="1.2"/><circle cx="156.5" cy="239.5" r="1.2"/><circle cx="172.5" cy="233.5" r="1.2"/><circle cx="131.5" cy="242.5" r="1.2"/><circle cx="131.5" cy="243.5" r="1.2"/><circle cx="133.5" cy="244.5" r="1.2"/><circle cx="139.5" cy="244.5" r="1.2"/><circle cx="125.5" cy="243.5" r="1.2"/><circle cx="127.5" cy="246.5" r="1.2"/><circle cx="122.5" cy="245.5" r="1.2"/><circle cx="122.5" cy="249.5" r="1.2"/><circle cx="125.5" cy="248.5" r="1.2"/><circle cx="121.5" cy="250.5" r="1.2"/><circle cx="125.5" cy="251.5" r="1.2"/><circle cx="128.5" cy="252.5" r="1.2"/><circle cx="131.5" cy="251.5" r="1.2"/><circle cx="133.5" cy="250.5" r="1.2"/><circle cx="131.5" cy="253.5" r="1.2"/><circle cx="134.5" cy="253.5" r="1.2"/><circle cx="139.5" cy="254.5" r="1.2"/><circle cx="125.5" cy="255.5" r="1.2"/><circle cx="131.5" cy="258.5" r="1.2"/><circle cx="125.5" cy="259.5" r="1.2"/><circle cx="137.5" cy="260.5" r="1.2"/><circle cx="121.5" cy="256.5" r="1.2"/><circle cx="123.5" cy="252.5" r="1.2"/><circle cx="120.5" cy="254.5" r="1.2"/><circle cx="80.5" cy="260.5" r="1.2"/><circle cx="75.5" cy="263.5" r="1.2"/><circle cx="81.5" cy="258.5" r="1.2"/><circle cx="69.5" cy="262.5" r="1.2"/><circle cx="75.5" cy="261.5" r="1.2"/><circle cx="73.5" cy="264.5" r="1.2"/><circle cx="79.5" cy="258.5" r="1.2"/><circle cx="69.5" cy="266.5" r="1.2"/><circle cx="80.5" cy="260.5" r="1.2"/><circle cx="75.5" cy="262.5" r="1.2"/><circle cx="81.5" cy="262.5" r="1.2"/><circle cx="75.5" cy="263.5" r="1.2"/><circle cx="73.5" cy="264.5" r="1.2"/><circle cx="78.5" cy="261.5" r="1.2"/><circle cx="81.5" cy="260.5" r="1.2"/><circle cx="73.5" cy="263.5" r="1.2"/><circle cx="82.5" cy="258.5" r="1.2"/><circle cx="80.5" cy="263.5" r="1.2"/><circle cx="70.5" cy="261.5" r="1.2"/><circle cx="76.5" cy="259.5" r="1.2"/><circle cx="77.5" cy="266.5" r="1.2"/><circle cx="81.5" cy="260.5" r="1.2"/><circle cx="77.5" cy="259.5" r="1.2"/><circle cx="71.5" cy="267.5" r="1.2"/><circle cx="74.5" cy="261.5" r="1.2"/><circle cx="113.5" cy="254.5" r="1.2"/><circle cx="112.5" cy="249.5" r="1.2"/><circle cx="106.5" cy="255.5" r="1.2"/><circle cx="100.5" cy="252.5" r="1.2"/><circle cx="95.5" cy="255.5" r="1.2"/><circle cx="102.5" cy="252.5" r="1.2"/><circle cx="103.5" cy="258.5" r="1.2"/><circle cx="95.5" cy="258.5" r="1.2"/><circle cx="94.5" cy="262.5" r="1.2"/><circle cx="117.5" cy="252.5" r="1.2"/><circle cx="109.5" cy="255.5" r="1.2"/><circle cx="98.5" cy="257.5" r="1.2"/><circle cx="103.5" cy="252.5" r="1.2"/><circle cx="117.5" cy="250.5" r="1.2"/><circle cx="114.5" cy="254.5" r="1.2"/><circle cx="115.5" cy="250.5" r="1.2"/><circle cx="103.5" cy="255.5" r="1.2"/><circle cx="104.5" cy="253.5" r="1.2"/><circle cx="110.5" cy="254.5" r="1.2"/><circle cx="94.5" cy="255.5" r="1.2"/><circle cx="107.5" cy="253.5" r="1.2"/><circle cx="100.5" cy="255.5" r="1.2"/><circle cx="113.5" cy="251.5" r="1.2"/><circle cx="95.5" cy="254.5" r="1.2"/><circle cx="110.5" cy="255.5" r="1.2"/><circle cx="132.5" cy="240.5" r="1.2"/><circle cx="126.5" cy="246.5" r="1.2"/><circle cx="100.5" cy="252.5" r="1.2"/><circle cx="128.5" cy="245.5" r="1.2"/><circle cx="128.5" cy="248.5" r="1.2"/><circle cx="108.5" cy="251.5" r="1.2"/><circle cx="117.5" cy="246.5" r="1.2"/><circle cx="118.5" cy="242.5" r="1.2"/><circle cx="108.5" cy="248.5" r="1.2"/><circle cx="120.5" cy="247.5" r="1.2"/><circle cx="123.5" cy="244.5" r="1.2"/><circle cx="129.5" cy="239.5" r="1.2"/><circle cx="110.5" cy="243.5" r="1.2"/><circle cx="113.5" cy="251.5" r="1.2"/><circle cx="117.5" cy="248.5" r="1.2"/><circle cx="134.5" cy="242.5" r="1.2"/><circle cx="130.5" cy="246.5" r="1.2"/><circle cx="95.5" cy="254.5" r="1.2"/><circle cx="125.5" cy="245.5" r="1.2"/><circle cx="102.5" cy="250.5" r="1.2"/><circle cx="106.5" cy="254.5" r="1.2"/><circle cx="119.5" cy="250.5" r="1.2"/><circle cx="76.5" cy="261.5" r="1.2"/><circle cx="69.5" cy="261.5" r="1.2"/><circle cx="77.5" cy="265.5" r="1.2"/><circle cx="74.5" cy="262.5" r="1.2"/><circle cx="62.5" cy="264.5" r="1.2"/><circle cx="78.5" cy="260.5" r="1.2"/><circle cx="75.5" cy="263.5" r="1.2"/><circle cx="74.5" cy="263.5" r="1.2"/><circle cx="63.5" cy="266.5" r="1.2"/><circle cx="68.5" cy="265.5" r="1.2"/></g>
<path d="M53.66 267.8L172.85 239.4" class="rl"/>
<text class="tl" text-anchor="end" transform="translate(260.45 329.25) scale(0.9 1)">15</text>
<text class="tl" text-anchor="end" transform="translate(260.45 306.09) scale(0.9 1)">20</text>
<text class="tl" text-anchor="end" transform="translate(260.45 282.93) scale(0.9 1)">25</text>
<text class="tl" text-anchor="end" transform="translate(260.45 259.77) scale(0.9 1)">30</text>
<text class="tl" text-anchor="end" transform="translate(260.45 236.61) scale(0.9 1)">35</text>
<text class="tl" text-anchor="end" transform="translate(260.45 213.45) scale(0.9 1)">40</text>
<text class="tl" text-anchor="middle" transform="translate(264.75 339.35) scale(0.9 1)">60</text>
<text class="tl" text-anchor="middle" transform="translate(299.55 339.35) scale(0.9 1)">70</text>
<text class="tl" text-anchor="middle" transform="translate(334.35 339.35) scale(0.9 1)">80</text>
<text class="tl" text-anchor="middle" transform="translate(369.15 339.35) scale(0.9 1)">90</text>
<text class="tl" text-anchor="middle" transform="translate(403.95 339.35) scale(0.9 1)">100</text>
<text class="tl" text-anchor="middle" transform="translate(438.75 339.35) scale(0.9 1)">110</text>
<path d="M264.75 210.45V326.25H438.75M261.55 326.25H264.75M261.55 303.09H264.75M261.55 279.93H264.75M261.55 256.77H264.75M261.55 233.61H264.75M261.55 210.45H264.75M264.75 326.25V329.45M299.55 326.25V329.45M334.35 326.25V329.45M369.15 326.25V329.45M403.95 326.25V329.45M438.75 326.25V329.45" class="ax"/>
<text x="351.75" y="198.6" class="tt" text-anchor="middle">E</text>
<text x="351.75" y="352.6" class="xl" text-anchor="middle">FW</text>
<text x="0" y="0" class="yl" text-anchor="middle" transform="translate(245.5 262.9) rotate(-90) scale(0.94 1)">MEDJL</text>
<text class="st" text-anchor="middle" transform="translate(403.75 213.35) scale(0.94 1)">R<tspan font-size="7.2" dy="-4.9">2</tspan><tspan dy="4.9">=0.5544</tspan></text>
<text class="st" text-anchor="middle" transform="translate(403.75 224.25) scale(0.94 1)">p<0.001</text>
<g class="pt"><circle cx="346.5" cy="247.5" r="1.2"/><circle cx="347.5" cy="249.5" r="1.2"/><circle cx="333.5" cy="255.5" r="1.2"/><circle cx="326.5" cy="257.5" r="1.2"/><circle cx="338.5" cy="255.5" r="1.2"/><circle cx="340.5" cy="257.5" r="1.2"/><circle cx="343.5" cy="258.5" r="1.2"/><circle cx="336.5" cy="258.5" r="1.2"/><circle cx="337.5" cy="261.5" r="1.2"/><circle cx="332.5" cy="262.5" r="1.2"/><circle cx="340.5" cy="262.5" r="1.2"/><circle cx="308.5" cy="263.5" r="1.2"/><circle cx="310.5" cy="265.5" r="1.2"/><circle cx="319.5" cy="266.5" r="1.2"/><circle cx="315.5" cy="268.5" r="1.2"/><circle cx="326.5" cy="267.5" r="1.2"/><circle cx="328.5" cy="268.5" r="1.2"/><circle cx="334.5" cy="265.5" r="1.2"/><circle cx="336.5" cy="268.5" r="1.2"/><circle cx="342.5" cy="266.5" r="1.2"/><circle cx="344.5" cy="264.5" r="1.2"/><circle cx="348.5" cy="265.5" r="1.2"/><circle cx="351.5" cy="264.5" r="1.2"/><circle cx="353.5" cy="262.5" r="1.2"/><circle cx="353.5" cy="257.5" r="1.2"/><circle cx="352.5" cy="259.5" r="1.2"/><circle cx="349.5" cy="260.5" r="1.2"/><circle cx="309.5" cy="269.5" r="1.2"/><circle cx="312.5" cy="271.5" r="1.2"/><circle cx="312.5" cy="273.5" r="1.2"/><circle cx="318.5" cy="271.5" r="1.2"/><circle cx="320.5" cy="272.5" r="1.2"/><circle cx="322.5" cy="271.5" r="1.2"/><circle cx="328.5" cy="271.5" r="1.2"/><circle cx="329.5" cy="271.5" r="1.2"/><circle cx="333.5" cy="270.5" r="1.2"/><circle cx="338.5" cy="273.5" r="1.2"/><circle cx="340.5" cy="273.5" r="1.2"/><circle cx="343.5" cy="272.5" r="1.2"/><circle cx="346.5" cy="273.5" r="1.2"/><circle cx="349.5" cy="272.5" r="1.2"/><circle cx="352.5" cy="271.5" r="1.2"/><circle cx="355.5" cy="270.5" r="1.2"/><circle cx="299.5" cy="279.5" r="1.2"/><circle cx="301.5" cy="277.5" r="1.2"/><circle cx="305.5" cy="278.5" r="1.2"/><circle cx="307.5" cy="277.5" r="1.2"/><circle cx="309.5" cy="277.5" r="1.2"/><circle cx="312.5" cy="278.5" r="1.2"/><circle cx="314.5" cy="277.5" r="1.2"/><circle cx="317.5" cy="279.5" r="1.2"/><circle cx="320.5" cy="278.5" r="1.2"/><circle cx="323.5" cy="276.5" r="1.2"/><circle cx="326.5" cy="277.5" r="1.2"/><circle cx="330.5" cy="277.5" r="1.2"/><circle cx="334.5" cy="276.5" r="1.2"/><circle cx="336.5" cy="277.5" r="1.2"/><circle cx="340.5" cy="276.5" r="1.2"/><circle cx="344.5" cy="276.5" r="1.2"/><circle cx="348.5" cy="275.5" r="1.2"/><circle cx="351.5" cy="276.5" r="1.2"/><circle cx="353.5" cy="275.5" r="1.2"/><circle cx="299.5" cy="282.5" r="1.2"/><circle cx="301.5" cy="284.5" r="1.2"/><circle cx="304.5" cy="281.5" r="1.2"/><circle cx="307.5" cy="280.5" r="1.2"/><circle cx="310.5" cy="281.5" r="1.2"/><circle cx="313.5" cy="282.5" r="1.2"/><circle cx="316.5" cy="281.5" r="1.2"/><circle cx="319.5" cy="280.5" r="1.2"/><circle cx="324.5" cy="283.5" r="1.2"/><circle cx="327.5" cy="281.5" r="1.2"/><circle cx="329.5" cy="283.5" r="1.2"/><circle cx="332.5" cy="285.5" r="1.2"/><circle cx="336.5" cy="281.5" r="1.2"/><circle cx="339.5" cy="282.5" r="1.2"/><circle cx="338.5" cy="284.5" r="1.2"/><circle cx="344.5" cy="281.5" r="1.2"/><circle cx="349.5" cy="284.5" r="1.2"/><circle cx="352.5" cy="280.5" r="1.2"/><circle cx="297.5" cy="288.5" r="1.2"/><circle cx="301.5" cy="287.5" r="1.2"/><circle cx="304.5" cy="289.5" r="1.2"/><circle cx="308.5" cy="288.5" r="1.2"/><circle cx="310.5" cy="289.5" r="1.2"/><circle cx="313.5" cy="288.5" r="1.2"/><circle cx="316.5" cy="288.5" r="1.2"/><circle cx="320.5" cy="286.5" r="1.2"/><circle cx="322.5" cy="286.5" r="1.2"/><circle cx="338.5" cy="286.5" r="1.2"/><circle cx="340.5" cy="287.5" r="1.2"/><circle cx="316.5" cy="292.5" r="1.2"/><circle cx="290.5" cy="293.5" r="1.2"/><circle cx="292.5" cy="295.5" r="1.2"/><circle cx="296.5" cy="293.5" r="1.2"/><circle cx="301.5" cy="291.5" r="1.2"/><circle cx="303.5" cy="293.5" r="1.2"/><circle cx="305.5" cy="292.5" r="1.2"/><circle cx="307.5" cy="293.5" r="1.2"/><circle cx="308.5" cy="295.5" r="1.2"/><circle cx="316.5" cy="295.5" r="1.2"/><circle cx="319.5" cy="295.5" r="1.2"/><circle cx="323.5" cy="296.5" r="1.2"/><circle cx="289.5" cy="298.5" r="1.2"/><circle cx="294.5" cy="297.5" r="1.2"/><circle cx="296.5" cy="299.5" r="1.2"/><circle cx="300.5" cy="298.5" r="1.2"/><circle cx="301.5" cy="300.5" r="1.2"/><circle cx="308.5" cy="298.5" r="1.2"/><circle cx="309.5" cy="299.5" r="1.2"/><circle cx="327.5" cy="302.5" r="1.2"/><circle cx="359.5" cy="241.5" r="1.2"/><circle cx="373.5" cy="243.5" r="1.2"/><circle cx="375.5" cy="244.5" r="1.2"/><circle cx="379.5" cy="246.5" r="1.2"/><circle cx="392.5" cy="244.5" r="1.2"/><circle cx="408.5" cy="239.5" r="1.2"/><circle cx="368.5" cy="249.5" r="1.2"/><circle cx="367.5" cy="254.5" r="1.2"/><circle cx="371.5" cy="253.5" r="1.2"/><circle cx="361.5" cy="256.5" r="1.2"/><circle cx="358.5" cy="257.5" r="1.2"/><circle cx="359.5" cy="259.5" r="1.2"/><circle cx="363.5" cy="259.5" r="1.2"/><circle cx="362.5" cy="260.5" r="1.2"/><circle cx="364.5" cy="260.5" r="1.2"/><circle cx="372.5" cy="261.5" r="1.2"/><circle cx="371.5" cy="263.5" r="1.2"/><circle cx="357.5" cy="260.5" r="1.2"/><circle cx="358.5" cy="263.5" r="1.2"/><circle cx="365.5" cy="263.5" r="1.2"/><circle cx="367.5" cy="266.5" r="1.2"/><circle cx="369.5" cy="269.5" r="1.2"/><circle cx="375.5" cy="268.5" r="1.2"/><circle cx="358.5" cy="267.5" r="1.2"/><circle cx="356.5" cy="271.5" r="1.2"/><circle cx="360.5" cy="271.5" r="1.2"/><circle cx="362.5" cy="273.5" r="1.2"/><circle cx="359.5" cy="273.5" r="1.2"/><circle cx="356.5" cy="274.5" r="1.2"/><circle cx="356.5" cy="276.5" r="1.2"/><circle cx="360.5" cy="289.5" r="1.2"/><circle cx="312.5" cy="279.5" r="1.2"/><circle cx="309.5" cy="278.5" r="1.2"/><circle cx="308.5" cy="276.5" r="1.2"/><circle cx="308.5" cy="283.5" r="1.2"/><circle cx="319.5" cy="276.5" r="1.2"/><circle cx="313.5" cy="277.5" r="1.2"/><circle cx="313.5" cy="278.5" r="1.2"/><circle cx="307.5" cy="282.5" r="1.2"/><circle cx="314.5" cy="277.5" r="1.2"/><circle cx="304.5" cy="280.5" r="1.2"/><circle cx="304.5" cy="279.5" r="1.2"/><circle cx="317.5" cy="273.5" r="1.2"/><circle cx="303.5" cy="280.5" r="1.2"/><circle cx="319.5" cy="279.5" r="1.2"/><circle cx="317.5" cy="276.5" r="1.2"/><circle cx="316.5" cy="277.5" r="1.2"/><circle cx="304.5" cy="275.5" r="1.2"/><circle cx="306.5" cy="274.5" r="1.2"/><circle cx="317.5" cy="276.5" r="1.2"/><circle cx="309.5" cy="279.5" r="1.2"/><circle cx="351.5" cy="264.5" r="1.2"/><circle cx="356.5" cy="262.5" r="1.2"/><circle cx="353.5" cy="259.5" r="1.2"/><circle cx="348.5" cy="266.5" r="1.2"/><circle cx="349.5" cy="270.5" r="1.2"/><circle cx="356.5" cy="258.5" r="1.2"/><circle cx="342.5" cy="270.5" r="1.2"/><circle cx="355.5" cy="263.5" r="1.2"/><circle cx="355.5" cy="261.5" r="1.2"/><circle cx="351.5" cy="271.5" r="1.2"/><circle cx="347.5" cy="268.5" r="1.2"/><circle cx="348.5" cy="262.5" r="1.2"/><circle cx="347.5" cy="266.5" r="1.2"/><circle cx="350.5" cy="267.5" r="1.2"/><circle cx="352.5" cy="264.5" r="1.2"/><circle cx="351.5" cy="266.5" r="1.2"/><circle cx="357.5" cy="261.5" r="1.2"/><circle cx="356.5" cy="265.5" r="1.2"/><circle cx="352.5" cy="268.5" r="1.2"/><circle cx="357.5" cy="260.5" r="1.2"/></g>
<path d="M289.81 292.7L409 242.6" class="rl"/>
<text class="tl" text-anchor="end" transform="translate(499 329.3) scale(0.9 1)">30</text>
<text class="tl" text-anchor="end" transform="translate(499 310) scale(0.9 1)">35</text>
<text class="tl" text-anchor="end" transform="translate(499 290.7) scale(0.9 1)">40</text>
<text class="tl" text-anchor="end" transform="translate(499 271.4) scale(0.9 1)">45</text>
<text class="tl" text-anchor="end" transform="translate(499 252.1) scale(0.9 1)">50</text>
<text class="tl" text-anchor="end" transform="translate(499 232.8) scale(0.9 1)">55</text>
<text class="tl" text-anchor="end" transform="translate(499 213.5) scale(0.9 1)">60</text>
<text class="tl" text-anchor="middle" transform="translate(503.3 339.4) scale(0.9 1)">60</text>
<text class="tl" text-anchor="middle" transform="translate(538.1 339.4) scale(0.9 1)">70</text>
<text class="tl" text-anchor="middle" transform="translate(572.9 339.4) scale(0.9 1)">80</text>
<text class="tl" text-anchor="middle" transform="translate(607.7 339.4) scale(0.9 1)">90</text>
<text class="tl" text-anchor="middle" transform="translate(642.5 339.4) scale(0.9 1)">100</text>
<text class="tl" text-anchor="middle" transform="translate(677.3 339.4) scale(0.9 1)">110</text>
<path d="M503.3 210.5V326.3H677.3M500.1 326.3H503.3M500.1 307H503.3M500.1 287.7H503.3M500.1 268.4H503.3M500.1 249.1H503.3M500.1 229.8H503.3M500.1 210.5H503.3M503.3 326.3V329.5M538.1 326.3V329.5M572.9 326.3V329.5M607.7 326.3V329.5M642.5 326.3V329.5M677.3 326.3V329.5" class="ax"/>
<text x="590.3" y="198.6" class="tt" text-anchor="middle">F</text>
<text x="590.3" y="352.65" class="xl" text-anchor="middle">FW</text>
<text x="0" y="0" class="yl" text-anchor="middle" transform="translate(484.2 263.1) rotate(-90) scale(0.94 1)">ATDJL</text>
<text class="st" text-anchor="middle" transform="translate(642.3 213.4) scale(0.94 1)">R<tspan font-size="7.2" dy="-4.9">2</tspan><tspan dy="4.9">=0.8205</tspan></text>
<text class="st" text-anchor="middle" transform="translate(642.3 224.3) scale(0.94 1)">p<0.001</text>
<g class="pt"><circle cx="574.5" cy="253.5" r="1.2"/><circle cx="577.5" cy="252.5" r="1.2"/><circle cx="579.5" cy="252.5" r="1.2"/><circle cx="582.5" cy="253.5" r="1.2"/><circle cx="585.5" cy="254.5" r="1.2"/><circle cx="587.5" cy="255.5" r="1.2"/><circle cx="589.5" cy="249.5" r="1.2"/><circle cx="571.5" cy="258.5" r="1.2"/><circle cx="566.5" cy="262.5" r="1.2"/><circle cx="567.5" cy="265.5" r="1.2"/><circle cx="564.5" cy="267.5" r="1.2"/><circle cx="562.5" cy="270.5" r="1.2"/><circle cx="570.5" cy="262.5" r="1.2"/><circle cx="573.5" cy="262.5" r="1.2"/><circle cx="576.5" cy="262.5" r="1.2"/><circle cx="577.5" cy="265.5" r="1.2"/><circle cx="580.5" cy="261.5" r="1.2"/><circle cx="582.5" cy="259.5" r="1.2"/><circle cx="585.5" cy="258.5" r="1.2"/><circle cx="587.5" cy="257.5" r="1.2"/><circle cx="584.5" cy="263.5" r="1.2"/><circle cx="586.5" cy="265.5" r="1.2"/><circle cx="588.5" cy="268.5" r="1.2"/><circle cx="582.5" cy="268.5" r="1.2"/><circle cx="581.5" cy="271.5" r="1.2"/><circle cx="583.5" cy="273.5" r="1.2"/><circle cx="579.5" cy="270.5" r="1.2"/><circle cx="576.5" cy="268.5" r="1.2"/><circle cx="574.5" cy="267.5" r="1.2"/><circle cx="571.5" cy="270.5" r="1.2"/><circle cx="570.5" cy="272.5" r="1.2"/><circle cx="572.5" cy="274.5" r="1.2"/><circle cx="574.5" cy="276.5" r="1.2"/><circle cx="576.5" cy="276.5" r="1.2"/><circle cx="573.5" cy="278.5" r="1.2"/><circle cx="569.5" cy="283.5" r="1.2"/><circle cx="568.5" cy="271.5" r="1.2"/><circle cx="565.5" cy="274.5" r="1.2"/><circle cx="563.5" cy="276.5" r="1.2"/><circle cx="562.5" cy="278.5" r="1.2"/><circle cx="559.5" cy="274.5" r="1.2"/><circle cx="557.5" cy="277.5" r="1.2"/><circle cx="555.5" cy="274.5" r="1.2"/><circle cx="553.5" cy="273.5" r="1.2"/><circle cx="550.5" cy="274.5" r="1.2"/><circle cx="548.5" cy="276.5" r="1.2"/><circle cx="545.5" cy="276.5" r="1.2"/><circle cx="543.5" cy="277.5" r="1.2"/><circle cx="540.5" cy="277.5" r="1.2"/><circle cx="537.5" cy="279.5" r="1.2"/><circle cx="534.5" cy="279.5" r="1.2"/><circle cx="540.5" cy="279.5" r="1.2"/><circle cx="541.5" cy="280.5" r="1.2"/><circle cx="546.5" cy="281.5" r="1.2"/><circle cx="548.5" cy="280.5" r="1.2"/><circle cx="550.5" cy="280.5" r="1.2"/><circle cx="553.5" cy="279.5" r="1.2"/><circle cx="556.5" cy="280.5" r="1.2"/><circle cx="558.5" cy="280.5" r="1.2"/><circle cx="564.5" cy="277.5" r="1.2"/><circle cx="565.5" cy="279.5" r="1.2"/><circle cx="547.5" cy="283.5" r="1.2"/><circle cx="550.5" cy="284.5" r="1.2"/><circle cx="552.5" cy="285.5" r="1.2"/><circle cx="555.5" cy="283.5" r="1.2"/><circle cx="557.5" cy="284.5" r="1.2"/><circle cx="553.5" cy="287.5" r="1.2"/><circle cx="556.5" cy="287.5" r="1.2"/><circle cx="544.5" cy="286.5" r="1.2"/><circle cx="546.5" cy="288.5" r="1.2"/><circle cx="547.5" cy="289.5" r="1.2"/><circle cx="541.5" cy="288.5" r="1.2"/><circle cx="539.5" cy="285.5" r="1.2"/><circle cx="537.5" cy="288.5" r="1.2"/><circle cx="535.5" cy="288.5" r="1.2"/><circle cx="532.5" cy="288.5" r="1.2"/><circle cx="528.5" cy="289.5" r="1.2"/><circle cx="540.5" cy="291.5" r="1.2"/><circle cx="540.5" cy="292.5" r="1.2"/><circle cx="546.5" cy="294.5" r="1.2"/><circle cx="535.5" cy="297.5" r="1.2"/><circle cx="536.5" cy="298.5" r="1.2"/><circle cx="537.5" cy="300.5" r="1.2"/><circle cx="549.5" cy="290.5" r="1.2"/><circle cx="551.5" cy="285.5" r="1.2"/><circle cx="543.5" cy="285.5" r="1.2"/><circle cx="613.5" cy="237.5" r="1.2"/><circle cx="647.5" cy="238.5" r="1.2"/><circle cx="630.5" cy="246.5" r="1.2"/><circle cx="605.5" cy="240.5" r="1.2"/><circle cx="606.5" cy="241.5" r="1.2"/><circle cx="602.5" cy="243.5" r="1.2"/><circle cx="604.5" cy="244.5" r="1.2"/><circle cx="600.5" cy="245.5" r="1.2"/><circle cx="611.5" cy="241.5" r="1.2"/><circle cx="613.5" cy="244.5" r="1.2"/><circle cx="607.5" cy="245.5" r="1.2"/><circle cx="597.5" cy="246.5" r="1.2"/><circle cx="594.5" cy="245.5" r="1.2"/><circle cx="592.5" cy="244.5" r="1.2"/><circle cx="592.5" cy="248.5" r="1.2"/><circle cx="595.5" cy="249.5" r="1.2"/><circle cx="597.5" cy="247.5" r="1.2"/><circle cx="598.5" cy="249.5" r="1.2"/><circle cx="591.5" cy="249.5" r="1.2"/><circle cx="609.5" cy="250.5" r="1.2"/><circle cx="607.5" cy="254.5" r="1.2"/><circle cx="612.5" cy="255.5" r="1.2"/><circle cx="618.5" cy="253.5" r="1.2"/><circle cx="600.5" cy="254.5" r="1.2"/><circle cx="599.5" cy="257.5" r="1.2"/><circle cx="597.5" cy="258.5" r="1.2"/><circle cx="600.5" cy="260.5" r="1.2"/><circle cx="598.5" cy="261.5" r="1.2"/><circle cx="605.5" cy="259.5" r="1.2"/><circle cx="609.5" cy="259.5" r="1.2"/><circle cx="595.5" cy="260.5" r="1.2"/><circle cx="592.5" cy="262.5" r="1.2"/><circle cx="594.5" cy="265.5" r="1.2"/><circle cx="591.5" cy="264.5" r="1.2"/><circle cx="595.5" cy="262.5" r="1.2"/><circle cx="591.5" cy="258.5" r="1.2"/><circle cx="591.5" cy="254.5" r="1.2"/><circle cx="590.5" cy="252.5" r="1.2"/><circle cx="546.5" cy="279.5" r="1.2"/><circle cx="559.5" cy="275.5" r="1.2"/><circle cx="546.5" cy="279.5" r="1.2"/><circle cx="554.5" cy="274.5" r="1.2"/><circle cx="558.5" cy="281.5" r="1.2"/><circle cx="547.5" cy="281.5" r="1.2"/><circle cx="547.5" cy="282.5" r="1.2"/><circle cx="547.5" cy="288.5" r="1.2"/><circle cx="543.5" cy="286.5" r="1.2"/><circle cx="549.5" cy="280.5" r="1.2"/><circle cx="545.5" cy="283.5" r="1.2"/><circle cx="546.5" cy="281.5" r="1.2"/><circle cx="543.5" cy="286.5" r="1.2"/><circle cx="542.5" cy="283.5" r="1.2"/><circle cx="555.5" cy="281.5" r="1.2"/><circle cx="549.5" cy="280.5" r="1.2"/><circle cx="544.5" cy="282.5" r="1.2"/><circle cx="550.5" cy="278.5" r="1.2"/><circle cx="551.5" cy="280.5" r="1.2"/><circle cx="552.5" cy="279.5" r="1.2"/><circle cx="558.5" cy="279.5" r="1.2"/><circle cx="543.5" cy="282.5" r="1.2"/><circle cx="548.5" cy="282.5" r="1.2"/><circle cx="544.5" cy="287.5" r="1.2"/><circle cx="540.5" cy="285.5" r="1.2"/><circle cx="592.5" cy="254.5" r="1.2"/><circle cx="581.5" cy="264.5" r="1.2"/><circle cx="586.5" cy="257.5" r="1.2"/><circle cx="591.5" cy="253.5" r="1.2"/><circle cx="588.5" cy="254.5" r="1.2"/><circle cx="593.5" cy="253.5" r="1.2"/><circle cx="591.5" cy="258.5" r="1.2"/><circle cx="591.5" cy="252.5" r="1.2"/><circle cx="575.5" cy="265.5" r="1.2"/><circle cx="582.5" cy="258.5" r="1.2"/><circle cx="585.5" cy="261.5" r="1.2"/><circle cx="576.5" cy="266.5" r="1.2"/><circle cx="575.5" cy="261.5" r="1.2"/><circle cx="591.5" cy="263.5" r="1.2"/><circle cx="594.5" cy="254.5" r="1.2"/><circle cx="590.5" cy="255.5" r="1.2"/><circle cx="582.5" cy="259.5" r="1.2"/><circle cx="588.5" cy="256.5" r="1.2"/><circle cx="580.5" cy="262.5" r="1.2"/><circle cx="588.5" cy="258.5" r="1.2"/><circle cx="580.5" cy="262.5" r="1.2"/><circle cx="589.5" cy="258.5" r="1.2"/><circle cx="596.5" cy="249.5" r="1.2"/><circle cx="593.5" cy="251.5" r="1.2"/><circle cx="591.5" cy="252.5" r="1.2"/><circle cx="589.5" cy="260.5" r="1.2"/><circle cx="575.5" cy="275.5" r="1.2"/><circle cx="571.5" cy="260.5" r="1.2"/><circle cx="571.5" cy="268.5" r="1.2"/><circle cx="585.5" cy="259.5" r="1.2"/><circle cx="573.5" cy="275.5" r="1.2"/><circle cx="587.5" cy="256.5" r="1.2"/><circle cx="584.5" cy="260.5" r="1.2"/><circle cx="577.5" cy="267.5" r="1.2"/><circle cx="580.5" cy="267.5" r="1.2"/><circle cx="588.5" cy="261.5" r="1.2"/><circle cx="585.5" cy="256.5" r="1.2"/><circle cx="570.5" cy="277.5" r="1.2"/><circle cx="585.5" cy="259.5" r="1.2"/><circle cx="575.5" cy="268.5" r="1.2"/><circle cx="591.5" cy="261.5" r="1.2"/><circle cx="571.5" cy="268.5" r="1.2"/><circle cx="577.5" cy="268.5" r="1.2"/><circle cx="588.5" cy="253.5" r="1.2"/><circle cx="581.5" cy="263.5" r="1.2"/><circle cx="596.5" cy="261.5" r="1.2"/><circle cx="597.5" cy="247.5" r="1.2"/><circle cx="596.5" cy="251.5" r="1.2"/><circle cx="586.5" cy="258.5" r="1.2"/><circle cx="597.5" cy="250.5" r="1.2"/><circle cx="600.5" cy="243.5" r="1.2"/><circle cx="592.5" cy="253.5" r="1.2"/><circle cx="587.5" cy="256.5" r="1.2"/><circle cx="591.5" cy="256.5" r="1.2"/><circle cx="602.5" cy="248.5" r="1.2"/></g>
<path d="M528.36 295.1L647.55 227.1" class="rl"/>
<text class="tl" text-anchor="end" transform="translate(24.7 515.45) scale(0.9 1)">15</text>
<text class="tl" text-anchor="end" transform="translate(24.7 486.5) scale(0.9 1)">20</text>
<text class="tl" text-anchor="end" transform="translate(24.7 457.55) scale(0.9 1)">25</text>
<text class="tl" text-anchor="end" transform="translate(24.7 428.6) scale(0.9 1)">30</text>
<text class="tl" text-anchor="end" transform="translate(24.7 399.65) scale(0.9 1)">35</text>
<text class="tl" text-anchor="middle" transform="translate(29 526.15) scale(0.9 1)">60</text>
<text class="tl" text-anchor="middle" transform="translate(63.8 526.15) scale(0.9 1)">70</text>
<text class="tl" text-anchor="middle" transform="translate(98.6 526.15) scale(0.9 1)">80</text>
<text class="tl" text-anchor="middle" transform="translate(133.4 526.15) scale(0.9 1)">90</text>
<text class="tl" text-anchor="middle" transform="translate(168.2 526.15) scale(0.9 1)">100</text>
<text class="tl" text-anchor="middle" transform="translate(203 526.15) scale(0.9 1)">110</text>
<path d="M29 396.65V512.45H203M25.8 512.45H29M25.8 483.5H29M25.8 454.55H29M25.8 425.6H29M25.8 396.65H29M29 512.45V515.65M63.8 512.45V515.65M98.6 512.45V515.65M133.4 512.45V515.65M168.2 512.45V515.65M203 512.45V515.65" class="ax"/>
<text x="116" y="383.4" class="tt" text-anchor="middle">G</text>
<text x="116" y="538.8" class="xl" text-anchor="middle">FW</text>
<text x="0" y="0" class="yl" text-anchor="middle" transform="translate(8.95 451.7) rotate(-90) scale(0.94 1)">LEPJL</text>
<text class="st" text-anchor="middle" transform="translate(168 399.55) scale(0.94 1)">R<tspan font-size="7.2" dy="-4.9">2</tspan><tspan dy="4.9">=0.4049</tspan></text>
<text class="st" text-anchor="middle" transform="translate(168 410.45) scale(0.94 1)">p<0.001</text>
<g class="pt"><circle cx="113.5" cy="436.5" r="1.2"/><circle cx="111.5" cy="439.5" r="1.2"/><circle cx="109.5" cy="442.5" r="1.2"/><circle cx="113.5" cy="443.5" r="1.2"/><circle cx="104.5" cy="447.5" r="1.2"/><circle cx="113.5" cy="448.5" r="1.2"/><circle cx="83.5" cy="449.5" r="1.2"/><circle cx="74.5" cy="452.5" r="1.2"/><circle cx="81.5" cy="456.5" r="1.2"/><circle cx="91.5" cy="455.5" r="1.2"/><circle cx="97.5" cy="452.5" r="1.2"/><circle cx="97.5" cy="457.5" r="1.2"/><circle cx="95.5" cy="458.5" r="1.2"/><circle cx="94.5" cy="459.5" r="1.2"/><circle cx="102.5" cy="459.5" r="1.2"/><circle cx="104.5" cy="460.5" r="1.2"/><circle cx="106.5" cy="457.5" r="1.2"/><circle cx="111.5" cy="459.5" r="1.2"/><circle cx="108.5" cy="461.5" r="1.2"/><circle cx="112.5" cy="461.5" r="1.2"/><circle cx="113.5" cy="465.5" r="1.2"/><circle cx="112.5" cy="452.5" r="1.2"/><circle cx="72.5" cy="459.5" r="1.2"/><circle cx="73.5" cy="461.5" r="1.2"/><circle cx="75.5" cy="463.5" r="1.2"/><circle cx="70.5" cy="464.5" r="1.2"/><circle cx="59.5" cy="465.5" r="1.2"/><circle cx="62.5" cy="467.5" r="1.2"/><circle cx="78.5" cy="464.5" r="1.2"/><circle cx="79.5" cy="466.5" r="1.2"/><circle cx="82.5" cy="468.5" r="1.2"/><circle cx="88.5" cy="466.5" r="1.2"/><circle cx="72.5" cy="468.5" r="1.2"/><circle cx="74.5" cy="469.5" r="1.2"/><circle cx="77.5" cy="471.5" r="1.2"/><circle cx="80.5" cy="470.5" r="1.2"/><circle cx="83.5" cy="471.5" r="1.2"/><circle cx="84.5" cy="473.5" r="1.2"/><circle cx="97.5" cy="466.5" r="1.2"/><circle cx="101.5" cy="467.5" r="1.2"/><circle cx="104.5" cy="468.5" r="1.2"/><circle cx="106.5" cy="466.5" r="1.2"/><circle cx="109.5" cy="468.5" r="1.2"/><circle cx="102.5" cy="471.5" r="1.2"/><circle cx="100.5" cy="472.5" r="1.2"/><circle cx="95.5" cy="472.5" r="1.2"/><circle cx="91.5" cy="474.5" r="1.2"/><circle cx="54.5" cy="474.5" r="1.2"/><circle cx="62.5" cy="475.5" r="1.2"/><circle cx="60.5" cy="478.5" r="1.2"/><circle cx="65.5" cy="479.5" r="1.2"/><circle cx="68.5" cy="477.5" r="1.2"/><circle cx="70.5" cy="478.5" r="1.2"/><circle cx="72.5" cy="473.5" r="1.2"/><circle cx="74.5" cy="475.5" r="1.2"/><circle cx="77.5" cy="474.5" r="1.2"/><circle cx="79.5" cy="477.5" r="1.2"/><circle cx="81.5" cy="478.5" r="1.2"/><circle cx="86.5" cy="475.5" r="1.2"/><circle cx="88.5" cy="477.5" r="1.2"/><circle cx="92.5" cy="478.5" r="1.2"/><circle cx="93.5" cy="480.5" r="1.2"/><circle cx="99.5" cy="479.5" r="1.2"/><circle cx="102.5" cy="477.5" r="1.2"/><circle cx="104.5" cy="477.5" r="1.2"/><circle cx="106.5" cy="475.5" r="1.2"/><circle cx="111.5" cy="478.5" r="1.2"/><circle cx="111.5" cy="474.5" r="1.2"/><circle cx="61.5" cy="482.5" r="1.2"/><circle cx="63.5" cy="482.5" r="1.2"/><circle cx="65.5" cy="480.5" r="1.2"/><circle cx="68.5" cy="481.5" r="1.2"/><circle cx="73.5" cy="482.5" r="1.2"/><circle cx="75.5" cy="481.5" r="1.2"/><circle cx="77.5" cy="482.5" r="1.2"/><circle cx="79.5" cy="484.5" r="1.2"/><circle cx="86.5" cy="482.5" r="1.2"/><circle cx="87.5" cy="483.5" r="1.2"/><circle cx="90.5" cy="484.5" r="1.2"/><circle cx="85.5" cy="485.5" r="1.2"/><circle cx="100.5" cy="482.5" r="1.2"/><circle cx="105.5" cy="482.5" r="1.2"/><circle cx="113.5" cy="481.5" r="1.2"/><circle cx="56.5" cy="487.5" r="1.2"/><circle cx="61.5" cy="490.5" r="1.2"/><circle cx="63.5" cy="488.5" r="1.2"/><circle cx="65.5" cy="486.5" r="1.2"/><circle cx="67.5" cy="486.5" r="1.2"/><circle cx="69.5" cy="489.5" r="1.2"/><circle cx="72.5" cy="486.5" r="1.2"/><circle cx="74.5" cy="485.5" r="1.2"/><circle cx="76.5" cy="485.5" r="1.2"/><circle cx="79.5" cy="486.5" r="1.2"/><circle cx="80.5" cy="489.5" r="1.2"/><circle cx="88.5" cy="488.5" r="1.2"/><circle cx="91.5" cy="489.5" r="1.2"/><circle cx="100.5" cy="488.5" r="1.2"/><circle cx="108.5" cy="489.5" r="1.2"/><circle cx="62.5" cy="493.5" r="1.2"/><circle cx="63.5" cy="495.5" r="1.2"/><circle cx="66.5" cy="493.5" r="1.2"/><circle cx="74.5" cy="491.5" r="1.2"/><circle cx="76.5" cy="493.5" r="1.2"/><circle cx="91.5" cy="493.5" r="1.2"/><circle cx="65.5" cy="498.5" r="1.2"/><circle cx="73.5" cy="499.5" r="1.2"/><circle cx="90.5" cy="500.5" r="1.2"/><circle cx="173.5" cy="427.5" r="1.2"/><circle cx="127.5" cy="431.5" r="1.2"/><circle cx="125.5" cy="436.5" r="1.2"/><circle cx="117.5" cy="436.5" r="1.2"/><circle cx="115.5" cy="437.5" r="1.2"/><circle cx="118.5" cy="442.5" r="1.2"/><circle cx="116.5" cy="444.5" r="1.2"/><circle cx="138.5" cy="442.5" r="1.2"/><circle cx="124.5" cy="444.5" r="1.2"/><circle cx="125.5" cy="444.5" r="1.2"/><circle cx="123.5" cy="448.5" r="1.2"/><circle cx="116.5" cy="448.5" r="1.2"/><circle cx="115.5" cy="447.5" r="1.2"/><circle cx="135.5" cy="448.5" r="1.2"/><circle cx="131.5" cy="450.5" r="1.2"/><circle cx="132.5" cy="452.5" r="1.2"/><circle cx="139.5" cy="450.5" r="1.2"/><circle cx="156.5" cy="444.5" r="1.2"/><circle cx="121.5" cy="453.5" r="1.2"/><circle cx="119.5" cy="454.5" r="1.2"/><circle cx="121.5" cy="455.5" r="1.2"/><circle cx="116.5" cy="456.5" r="1.2"/><circle cx="123.5" cy="458.5" r="1.2"/><circle cx="125.5" cy="460.5" r="1.2"/><circle cx="131.5" cy="457.5" r="1.2"/><circle cx="122.5" cy="462.5" r="1.2"/><circle cx="118.5" cy="461.5" r="1.2"/><circle cx="117.5" cy="464.5" r="1.2"/><circle cx="125.5" cy="465.5" r="1.2"/><circle cx="130.5" cy="467.5" r="1.2"/><circle cx="134.5" cy="464.5" r="1.2"/><circle cx="133.5" cy="466.5" r="1.2"/><circle cx="135.5" cy="465.5" r="1.2"/><circle cx="139.5" cy="469.5" r="1.2"/><circle cx="137.5" cy="471.5" r="1.2"/><circle cx="127.5" cy="472.5" r="1.2"/><circle cx="124.5" cy="470.5" r="1.2"/><circle cx="117.5" cy="471.5" r="1.2"/><circle cx="123.5" cy="474.5" r="1.2"/><circle cx="123.5" cy="476.5" r="1.2"/><circle cx="120.5" cy="478.5" r="1.2"/><circle cx="119.5" cy="483.5" r="1.2"/><circle cx="132.5" cy="480.5" r="1.2"/><circle cx="144.5" cy="476.5" r="1.2"/><circle cx="115.5" cy="468.5" r="1.2"/><circle cx="78.5" cy="479.5" r="1.2"/><circle cx="69.5" cy="478.5" r="1.2"/><circle cx="75.5" cy="481.5" r="1.2"/><circle cx="67.5" cy="483.5" r="1.2"/><circle cx="73.5" cy="482.5" r="1.2"/><circle cx="67.5" cy="488.5" r="1.2"/><circle cx="74.5" cy="482.5" r="1.2"/><circle cx="77.5" cy="481.5" r="1.2"/><circle cx="72.5" cy="484.5" r="1.2"/><circle cx="79.5" cy="479.5" r="1.2"/><circle cx="75.5" cy="478.5" r="1.2"/><circle cx="70.5" cy="481.5" r="1.2"/><circle cx="74.5" cy="484.5" r="1.2"/><circle cx="77.5" cy="482.5" r="1.2"/><circle cx="78.5" cy="479.5" r="1.2"/><circle cx="113.5" cy="458.5" r="1.2"/><circle cx="116.5" cy="460.5" r="1.2"/><circle cx="117.5" cy="460.5" r="1.2"/><circle cx="112.5" cy="461.5" r="1.2"/><circle cx="114.5" cy="459.5" r="1.2"/><circle cx="121.5" cy="460.5" r="1.2"/><circle cx="112.5" cy="467.5" r="1.2"/><circle cx="113.5" cy="463.5" r="1.2"/><circle cx="120.5" cy="458.5" r="1.2"/><circle cx="116.5" cy="463.5" r="1.2"/><circle cx="116.5" cy="465.5" r="1.2"/><circle cx="116.5" cy="461.5" r="1.2"/></g>
<path d="M54.06 487.5L173.25 438.3" class="rl"/>
<text class="tl" text-anchor="end" transform="translate(260.6 515.45) scale(0.9 1)">20</text>
<text class="tl" text-anchor="end" transform="translate(260.6 492.29) scale(0.9 1)">25</text>
<text class="tl" text-anchor="end" transform="translate(260.6 469.13) scale(0.9 1)">30</text>
<text class="tl" text-anchor="end" transform="translate(260.6 445.97) scale(0.9 1)">35</text>
<text class="tl" text-anchor="end" transform="translate(260.6 422.81) scale(0.9 1)">40</text>
<text class="tl" text-anchor="end" transform="translate(260.6 399.65) scale(0.9 1)">45</text>
<text class="tl" text-anchor="middle" transform="translate(264.9 526.15) scale(0.9 1)">60</text>
<text class="tl" text-anchor="middle" transform="translate(299.7 526.15) scale(0.9 1)">70</text>
<text class="tl" text-anchor="middle" transform="translate(334.5 526.15) scale(0.9 1)">80</text>
<text class="tl" text-anchor="middle" transform="translate(369.3 526.15) scale(0.9 1)">90</text>
<text class="tl" text-anchor="middle" transform="translate(404.1 526.15) scale(0.9 1)">100</text>
<text class="tl" text-anchor="middle" transform="translate(438.9 526.15) scale(0.9 1)">110</text>
<path d="M264.9 396.65V512.45H438.9M261.7 512.45H264.9M261.7 489.29H264.9M261.7 466.13H264.9M261.7 442.97H264.9M261.7 419.81H264.9M261.7 396.65H264.9M264.9 512.45V515.65M299.7 512.45V515.65M334.5 512.45V515.65M369.3 512.45V515.65M404.1 512.45V515.65M438.9 512.45V515.65" class="ax"/>
<text x="351.9" y="383.4" class="tt" text-anchor="middle">H</text>
<text x="351.9" y="538.8" class="xl" text-anchor="middle">FW</text>
<text x="0" y="0" class="yl" text-anchor="middle" transform="translate(245.2 451.9) rotate(-90) scale(0.94 1)">MEPJL</text>
<text class="st" text-anchor="middle" transform="translate(403.9 399.55) scale(0.94 1)">R<tspan font-size="7.2" dy="-4.9">2</tspan><tspan dy="4.9">=0.6422</tspan></text>
<text class="st" text-anchor="middle" transform="translate(403.9 410.45) scale(0.94 1)">p<0.001</text>
<g class="pt"><circle cx="345.5" cy="438.5" r="1.2"/><circle cx="336.5" cy="442.5" r="1.2"/><circle cx="329.5" cy="451.5" r="1.2"/><circle cx="324.5" cy="452.5" r="1.2"/><circle cx="318.5" cy="453.5" r="1.2"/><circle cx="310.5" cy="454.5" r="1.2"/><circle cx="307.5" cy="456.5" r="1.2"/><circle cx="310.5" cy="458.5" r="1.2"/><circle cx="309.5" cy="461.5" r="1.2"/><circle cx="308.5" cy="464.5" r="1.2"/><circle cx="312.5" cy="461.5" r="1.2"/><circle cx="314.5" cy="463.5" r="1.2"/><circle cx="318.5" cy="465.5" r="1.2"/><circle cx="321.5" cy="460.5" r="1.2"/><circle cx="322.5" cy="463.5" r="1.2"/><circle cx="326.5" cy="458.5" r="1.2"/><circle cx="328.5" cy="460.5" r="1.2"/><circle cx="332.5" cy="453.5" r="1.2"/><circle cx="335.5" cy="454.5" r="1.2"/><circle cx="337.5" cy="453.5" r="1.2"/><circle cx="339.5" cy="454.5" r="1.2"/><circle cx="343.5" cy="447.5" r="1.2"/><circle cx="344.5" cy="449.5" r="1.2"/><circle cx="347.5" cy="447.5" r="1.2"/><circle cx="348.5" cy="450.5" r="1.2"/><circle cx="346.5" cy="452.5" r="1.2"/><circle cx="341.5" cy="456.5" r="1.2"/><circle cx="339.5" cy="459.5" r="1.2"/><circle cx="336.5" cy="461.5" r="1.2"/><circle cx="338.5" cy="463.5" r="1.2"/><circle cx="333.5" cy="465.5" r="1.2"/><circle cx="330.5" cy="465.5" r="1.2"/><circle cx="326.5" cy="469.5" r="1.2"/><circle cx="328.5" cy="469.5" r="1.2"/><circle cx="319.5" cy="468.5" r="1.2"/><circle cx="316.5" cy="466.5" r="1.2"/><circle cx="313.5" cy="469.5" r="1.2"/><circle cx="311.5" cy="470.5" r="1.2"/><circle cx="309.5" cy="470.5" r="1.2"/><circle cx="305.5" cy="467.5" r="1.2"/><circle cx="302.5" cy="465.5" r="1.2"/><circle cx="299.5" cy="468.5" r="1.2"/><circle cx="303.5" cy="469.5" r="1.2"/><circle cx="300.5" cy="472.5" r="1.2"/><circle cx="295.5" cy="473.5" r="1.2"/><circle cx="294.5" cy="474.5" r="1.2"/><circle cx="298.5" cy="478.5" r="1.2"/><circle cx="303.5" cy="479.5" r="1.2"/><circle cx="306.5" cy="478.5" r="1.2"/><circle cx="308.5" cy="476.5" r="1.2"/><circle cx="310.5" cy="475.5" r="1.2"/><circle cx="312.5" cy="473.5" r="1.2"/><circle cx="314.5" cy="475.5" r="1.2"/><circle cx="316.5" cy="472.5" r="1.2"/><circle cx="320.5" cy="475.5" r="1.2"/><circle cx="310.5" cy="480.5" r="1.2"/><circle cx="307.5" cy="481.5" r="1.2"/><circle cx="305.5" cy="480.5" r="1.2"/><circle cx="314.5" cy="478.5" r="1.2"/><circle cx="316.5" cy="476.5" r="1.2"/><circle cx="328.5" cy="477.5" r="1.2"/><circle cx="316.5" cy="481.5" r="1.2"/><circle cx="333.5" cy="482.5" r="1.2"/><circle cx="344.5" cy="470.5" r="1.2"/><circle cx="346.5" cy="461.5" r="1.2"/><circle cx="348.5" cy="462.5" r="1.2"/><circle cx="289.5" cy="483.5" r="1.2"/><circle cx="298.5" cy="486.5" r="1.2"/><circle cx="300.5" cy="486.5" r="1.2"/><circle cx="302.5" cy="488.5" r="1.2"/><circle cx="298.5" cy="489.5" r="1.2"/><circle cx="299.5" cy="493.5" r="1.2"/><circle cx="296.5" cy="493.5" r="1.2"/><circle cx="306.5" cy="486.5" r="1.2"/><circle cx="292.5" cy="496.5" r="1.2"/><circle cx="334.5" cy="494.5" r="1.2"/><circle cx="409.5" cy="421.5" r="1.2"/><circle cx="357.5" cy="426.5" r="1.2"/><circle cx="360.5" cy="431.5" r="1.2"/><circle cx="361.5" cy="432.5" r="1.2"/><circle cx="361.5" cy="434.5" r="1.2"/><circle cx="367.5" cy="432.5" r="1.2"/><circle cx="375.5" cy="434.5" r="1.2"/><circle cx="392.5" cy="433.5" r="1.2"/><circle cx="352.5" cy="434.5" r="1.2"/><circle cx="352.5" cy="437.5" r="1.2"/><circle cx="357.5" cy="439.5" r="1.2"/><circle cx="359.5" cy="439.5" r="1.2"/><circle cx="365.5" cy="440.5" r="1.2"/><circle cx="368.5" cy="439.5" r="1.2"/><circle cx="350.5" cy="441.5" r="1.2"/><circle cx="351.5" cy="440.5" r="1.2"/><circle cx="353.5" cy="441.5" r="1.2"/><circle cx="354.5" cy="443.5" r="1.2"/><circle cx="356.5" cy="444.5" r="1.2"/><circle cx="363.5" cy="445.5" r="1.2"/><circle cx="367.5" cy="444.5" r="1.2"/><circle cx="370.5" cy="445.5" r="1.2"/><circle cx="372.5" cy="445.5" r="1.2"/><circle cx="375.5" cy="446.5" r="1.2"/><circle cx="369.5" cy="448.5" r="1.2"/><circle cx="370.5" cy="449.5" r="1.2"/><circle cx="374.5" cy="452.5" r="1.2"/><circle cx="379.5" cy="450.5" r="1.2"/><circle cx="364.5" cy="448.5" r="1.2"/><circle cx="361.5" cy="448.5" r="1.2"/><circle cx="359.5" cy="449.5" r="1.2"/><circle cx="357.5" cy="451.5" r="1.2"/><circle cx="355.5" cy="452.5" r="1.2"/><circle cx="352.5" cy="447.5" r="1.2"/><circle cx="350.5" cy="448.5" r="1.2"/><circle cx="350.5" cy="452.5" r="1.2"/><circle cx="352.5" cy="454.5" r="1.2"/><circle cx="354.5" cy="456.5" r="1.2"/><circle cx="352.5" cy="459.5" r="1.2"/><circle cx="355.5" cy="461.5" r="1.2"/><circle cx="357.5" cy="462.5" r="1.2"/><circle cx="350.5" cy="461.5" r="1.2"/><circle cx="369.5" cy="459.5" r="1.2"/><circle cx="360.5" cy="467.5" r="1.2"/><circle cx="360.5" cy="487.5" r="1.2"/><circle cx="312.5" cy="471.5" r="1.2"/><circle cx="321.5" cy="465.5" r="1.2"/><circle cx="310.5" cy="473.5" r="1.2"/><circle cx="310.5" cy="470.5" r="1.2"/><circle cx="312.5" cy="471.5" r="1.2"/><circle cx="310.5" cy="472.5" r="1.2"/><circle cx="317.5" cy="467.5" r="1.2"/><circle cx="309.5" cy="466.5" r="1.2"/><circle cx="321.5" cy="466.5" r="1.2"/><circle cx="318.5" cy="469.5" r="1.2"/><circle cx="308.5" cy="471.5" r="1.2"/><circle cx="315.5" cy="470.5" r="1.2"/><circle cx="309.5" cy="473.5" r="1.2"/><circle cx="310.5" cy="469.5" r="1.2"/><circle cx="313.5" cy="472.5" r="1.2"/><circle cx="314.5" cy="473.5" r="1.2"/><circle cx="314.5" cy="472.5" r="1.2"/><circle cx="320.5" cy="470.5" r="1.2"/><circle cx="311.5" cy="473.5" r="1.2"/><circle cx="312.5" cy="476.5" r="1.2"/><circle cx="349.5" cy="449.5" r="1.2"/><circle cx="347.5" cy="455.5" r="1.2"/><circle cx="348.5" cy="449.5" r="1.2"/><circle cx="339.5" cy="456.5" r="1.2"/><circle cx="337.5" cy="457.5" r="1.2"/><circle cx="350.5" cy="454.5" r="1.2"/><circle cx="344.5" cy="455.5" r="1.2"/><circle cx="336.5" cy="461.5" r="1.2"/><circle cx="347.5" cy="453.5" r="1.2"/><circle cx="350.5" cy="450.5" r="1.2"/><circle cx="338.5" cy="459.5" r="1.2"/><circle cx="347.5" cy="457.5" r="1.2"/><circle cx="337.5" cy="459.5" r="1.2"/><circle cx="341.5" cy="458.5" r="1.2"/><circle cx="346.5" cy="453.5" r="1.2"/><circle cx="340.5" cy="459.5" r="1.2"/><circle cx="342.5" cy="457.5" r="1.2"/><circle cx="337.5" cy="461.5" r="1.2"/><circle cx="347.5" cy="454.5" r="1.2"/><circle cx="342.5" cy="460.5" r="1.2"/><circle cx="348.5" cy="443.5" r="1.2"/><circle cx="345.5" cy="445.5" r="1.2"/><circle cx="346.5" cy="444.5" r="1.2"/><circle cx="348.5" cy="438.5" r="1.2"/><circle cx="346.5" cy="445.5" r="1.2"/><circle cx="345.5" cy="442.5" r="1.2"/><circle cx="346.5" cy="445.5" r="1.2"/><circle cx="346.5" cy="443.5" r="1.2"/><circle cx="345.5" cy="442.5" r="1.2"/><circle cx="345.5" cy="443.5" r="1.2"/><circle cx="347.5" cy="440.5" r="1.2"/><circle cx="340.5" cy="449.5" r="1.2"/></g>
<path d="M289.96 482.2L409.15 424.9" class="rl"/>
<text class="tl" text-anchor="end" transform="translate(498.15 515.45) scale(0.9 1)">15</text>
<text class="tl" text-anchor="end" transform="translate(498.15 486.5) scale(0.9 1)">20</text>
<text class="tl" text-anchor="end" transform="translate(498.15 457.55) scale(0.9 1)">25</text>
<text class="tl" text-anchor="end" transform="translate(498.15 428.6) scale(0.9 1)">30</text>
<text class="tl" text-anchor="end" transform="translate(498.15 399.65) scale(0.9 1)">35</text>
<text class="tl" text-anchor="middle" transform="translate(502.45 526.15) scale(0.9 1)">60</text>
<text class="tl" text-anchor="middle" transform="translate(537.25 526.15) scale(0.9 1)">70</text>
<text class="tl" text-anchor="middle" transform="translate(572.05 526.15) scale(0.9 1)">80</text>
<text class="tl" text-anchor="middle" transform="translate(606.85 526.15) scale(0.9 1)">90</text>
<text class="tl" text-anchor="middle" transform="translate(641.65 526.15) scale(0.9 1)">100</text>
<text class="tl" text-anchor="middle" transform="translate(676.45 526.15) scale(0.9 1)">110</text>
<path d="M502.45 396.65V512.45H676.45M499.25 512.45H502.45M499.25 483.5H502.45M499.25 454.55H502.45M499.25 425.6H502.45M499.25 396.65H502.45M502.45 512.45V515.65M537.25 512.45V515.65M572.05 512.45V515.65M606.85 512.45V515.65M641.65 512.45V515.65M676.45 512.45V515.65" class="ax"/>
<text x="589.45" y="383.4" class="tt" text-anchor="middle">I</text>
<text x="589.45" y="538.8" class="xl" text-anchor="middle">FW</text>
<text x="0" y="0" class="yl" text-anchor="middle" transform="translate(482.8 451.5) rotate(-90) scale(0.94 1)">ATPJL</text>
<text class="st" text-anchor="middle" transform="translate(641.45 399.55) scale(0.94 1)">R<tspan font-size="7.2" dy="-4.9">2</tspan><tspan dy="4.9">=0.4193</tspan></text>
<text class="st" text-anchor="middle" transform="translate(641.45 410.45) scale(0.94 1)">p<0.001</text>
<g class="pt"><circle cx="587.5" cy="407.5" r="1.2"/><circle cx="590.5" cy="413.5" r="1.2"/><circle cx="582.5" cy="419.5" r="1.2"/><circle cx="585.5" cy="420.5" r="1.2"/><circle cx="583.5" cy="424.5" r="1.2"/><circle cx="570.5" cy="425.5" r="1.2"/><circle cx="590.5" cy="428.5" r="1.2"/><circle cx="588.5" cy="431.5" r="1.2"/><circle cx="578.5" cy="433.5" r="1.2"/><circle cx="584.5" cy="436.5" r="1.2"/><circle cx="590.5" cy="438.5" r="1.2"/><circle cx="582.5" cy="442.5" r="1.2"/><circle cx="584.5" cy="440.5" r="1.2"/><circle cx="557.5" cy="440.5" r="1.2"/><circle cx="560.5" cy="441.5" r="1.2"/><circle cx="562.5" cy="439.5" r="1.2"/><circle cx="564.5" cy="440.5" r="1.2"/><circle cx="590.5" cy="443.5" r="1.2"/><circle cx="566.5" cy="444.5" r="1.2"/><circle cx="569.5" cy="443.5" r="1.2"/><circle cx="572.5" cy="443.5" r="1.2"/><circle cx="574.5" cy="444.5" r="1.2"/><circle cx="577.5" cy="445.5" r="1.2"/><circle cx="551.5" cy="445.5" r="1.2"/><circle cx="555.5" cy="444.5" r="1.2"/><circle cx="547.5" cy="447.5" r="1.2"/><circle cx="548.5" cy="449.5" r="1.2"/><circle cx="543.5" cy="449.5" r="1.2"/><circle cx="546.5" cy="451.5" r="1.2"/><circle cx="551.5" cy="453.5" r="1.2"/><circle cx="554.5" cy="450.5" r="1.2"/><circle cx="557.5" cy="450.5" r="1.2"/><circle cx="562.5" cy="454.5" r="1.2"/><circle cx="565.5" cy="454.5" r="1.2"/><circle cx="553.5" cy="455.5" r="1.2"/><circle cx="557.5" cy="456.5" r="1.2"/><circle cx="552.5" cy="456.5" r="1.2"/><circle cx="548.5" cy="455.5" r="1.2"/><circle cx="547.5" cy="458.5" r="1.2"/><circle cx="542.5" cy="459.5" r="1.2"/><circle cx="538.5" cy="458.5" r="1.2"/><circle cx="540.5" cy="462.5" r="1.2"/><circle cx="537.5" cy="463.5" r="1.2"/><circle cx="538.5" cy="465.5" r="1.2"/><circle cx="533.5" cy="468.5" r="1.2"/><circle cx="545.5" cy="465.5" r="1.2"/><circle cx="548.5" cy="461.5" r="1.2"/><circle cx="552.5" cy="461.5" r="1.2"/><circle cx="558.5" cy="460.5" r="1.2"/><circle cx="564.5" cy="460.5" r="1.2"/><circle cx="566.5" cy="459.5" r="1.2"/><circle cx="572.5" cy="456.5" r="1.2"/><circle cx="573.5" cy="454.5" r="1.2"/><circle cx="577.5" cy="452.5" r="1.2"/><circle cx="579.5" cy="450.5" r="1.2"/><circle cx="580.5" cy="455.5" r="1.2"/><circle cx="582.5" cy="455.5" r="1.2"/><circle cx="586.5" cy="453.5" r="1.2"/><circle cx="587.5" cy="458.5" r="1.2"/><circle cx="589.5" cy="457.5" r="1.2"/><circle cx="575.5" cy="449.5" r="1.2"/><circle cx="578.5" cy="448.5" r="1.2"/><circle cx="582.5" cy="445.5" r="1.2"/><circle cx="585.5" cy="450.5" r="1.2"/><circle cx="572.5" cy="451.5" r="1.2"/><circle cx="577.5" cy="464.5" r="1.2"/><circle cx="581.5" cy="465.5" r="1.2"/><circle cx="583.5" cy="464.5" r="1.2"/><circle cx="587.5" cy="463.5" r="1.2"/><circle cx="589.5" cy="462.5" r="1.2"/><circle cx="590.5" cy="468.5" r="1.2"/><circle cx="575.5" cy="460.5" r="1.2"/><circle cx="536.5" cy="468.5" r="1.2"/><circle cx="540.5" cy="470.5" r="1.2"/><circle cx="543.5" cy="470.5" r="1.2"/><circle cx="547.5" cy="471.5" r="1.2"/><circle cx="550.5" cy="470.5" r="1.2"/><circle cx="554.5" cy="468.5" r="1.2"/><circle cx="556.5" cy="473.5" r="1.2"/><circle cx="560.5" cy="470.5" r="1.2"/><circle cx="564.5" cy="468.5" r="1.2"/><circle cx="567.5" cy="467.5" r="1.2"/><circle cx="567.5" cy="470.5" r="1.2"/><circle cx="571.5" cy="470.5" r="1.2"/><circle cx="575.5" cy="470.5" r="1.2"/><circle cx="577.5" cy="470.5" r="1.2"/><circle cx="575.5" cy="472.5" r="1.2"/><circle cx="552.5" cy="475.5" r="1.2"/><circle cx="547.5" cy="473.5" r="1.2"/><circle cx="543.5" cy="473.5" r="1.2"/><circle cx="538.5" cy="474.5" r="1.2"/><circle cx="535.5" cy="473.5" r="1.2"/><circle cx="537.5" cy="479.5" r="1.2"/><circle cx="541.5" cy="478.5" r="1.2"/><circle cx="545.5" cy="480.5" r="1.2"/><circle cx="553.5" cy="481.5" r="1.2"/><circle cx="557.5" cy="481.5" r="1.2"/><circle cx="561.5" cy="475.5" r="1.2"/><circle cx="564.5" cy="476.5" r="1.2"/><circle cx="568.5" cy="476.5" r="1.2"/><circle cx="587.5" cy="477.5" r="1.2"/><circle cx="527.5" cy="482.5" r="1.2"/><circle cx="532.5" cy="484.5" r="1.2"/><circle cx="534.5" cy="485.5" r="1.2"/><circle cx="535.5" cy="484.5" r="1.2"/><circle cx="540.5" cy="485.5" r="1.2"/><circle cx="543.5" cy="483.5" r="1.2"/><circle cx="547.5" cy="486.5" r="1.2"/><circle cx="530.5" cy="490.5" r="1.2"/><circle cx="542.5" cy="489.5" r="1.2"/><circle cx="546.5" cy="490.5" r="1.2"/><circle cx="552.5" cy="482.5" r="1.2"/><circle cx="630.5" cy="414.5" r="1.2"/><circle cx="646.5" cy="411.5" r="1.2"/><circle cx="596.5" cy="420.5" r="1.2"/><circle cx="599.5" cy="420.5" r="1.2"/><circle cx="608.5" cy="426.5" r="1.2"/><circle cx="592.5" cy="428.5" r="1.2"/><circle cx="599.5" cy="428.5" r="1.2"/><circle cx="603.5" cy="430.5" r="1.2"/><circle cx="599.5" cy="431.5" r="1.2"/><circle cx="599.5" cy="433.5" r="1.2"/><circle cx="608.5" cy="431.5" r="1.2"/><circle cx="617.5" cy="434.5" r="1.2"/><circle cx="596.5" cy="435.5" r="1.2"/><circle cx="593.5" cy="438.5" r="1.2"/><circle cx="594.5" cy="440.5" r="1.2"/><circle cx="611.5" cy="440.5" r="1.2"/><circle cx="613.5" cy="443.5" r="1.2"/><circle cx="606.5" cy="442.5" r="1.2"/><circle cx="604.5" cy="442.5" r="1.2"/><circle cx="601.5" cy="442.5" r="1.2"/><circle cx="596.5" cy="445.5" r="1.2"/><circle cx="597.5" cy="451.5" r="1.2"/><circle cx="601.5" cy="449.5" r="1.2"/><circle cx="605.5" cy="451.5" r="1.2"/><circle cx="610.5" cy="450.5" r="1.2"/><circle cx="605.5" cy="454.5" r="1.2"/><circle cx="607.5" cy="458.5" r="1.2"/><circle cx="596.5" cy="460.5" r="1.2"/><circle cx="605.5" cy="463.5" r="1.2"/><circle cx="592.5" cy="463.5" r="1.2"/><circle cx="593.5" cy="465.5" r="1.2"/><circle cx="598.5" cy="469.5" r="1.2"/><circle cx="592.5" cy="468.5" r="1.2"/><circle cx="593.5" cy="448.5" r="1.2"/><circle cx="594.5" cy="413.5" r="1.2"/><circle cx="592.5" cy="413.5" r="1.2"/><circle cx="551.5" cy="454.5" r="1.2"/><circle cx="555.5" cy="454.5" r="1.2"/><circle cx="547.5" cy="455.5" r="1.2"/><circle cx="549.5" cy="468.5" r="1.2"/><circle cx="546.5" cy="470.5" r="1.2"/><circle cx="549.5" cy="476.5" r="1.2"/><circle cx="538.5" cy="461.5" r="1.2"/><circle cx="539.5" cy="461.5" r="1.2"/><circle cx="538.5" cy="458.5" r="1.2"/><circle cx="573.5" cy="451.5" r="1.2"/><circle cx="576.5" cy="449.5" r="1.2"/><circle cx="580.5" cy="451.5" r="1.2"/><circle cx="575.5" cy="443.5" r="1.2"/><circle cx="586.5" cy="440.5" r="1.2"/><circle cx="590.5" cy="438.5" r="1.2"/><circle cx="589.5" cy="445.5" r="1.2"/><circle cx="584.5" cy="453.5" r="1.2"/><circle cx="558.5" cy="450.5" r="1.2"/><circle cx="561.5" cy="455.5" r="1.2"/><circle cx="543.5" cy="466.5" r="1.2"/><circle cx="551.5" cy="464.5" r="1.2"/><circle cx="565.5" cy="459.5" r="1.2"/><circle cx="569.5" cy="467.5" r="1.2"/><circle cx="549.5" cy="472.5" r="1.2"/><circle cx="562.5" cy="452.5" r="1.2"/><circle cx="542.5" cy="460.5" r="1.2"/><circle cx="554.5" cy="460.5" r="1.2"/><circle cx="595.5" cy="450.5" r="1.2"/><circle cx="594.5" cy="450.5" r="1.2"/><circle cx="601.5" cy="452.5" r="1.2"/><circle cx="602.5" cy="457.5" r="1.2"/><circle cx="596.5" cy="444.5" r="1.2"/><circle cx="599.5" cy="452.5" r="1.2"/><circle cx="593.5" cy="450.5" r="1.2"/><circle cx="594.5" cy="461.5" r="1.2"/><circle cx="591.5" cy="444.5" r="1.2"/><circle cx="601.5" cy="446.5" r="1.2"/><circle cx="592.5" cy="438.5" r="1.2"/><circle cx="599.5" cy="451.5" r="1.2"/></g>
<path d="M527.51 475.6L646.7 419.2" class="rl"/>
</svg>
</body></html>
